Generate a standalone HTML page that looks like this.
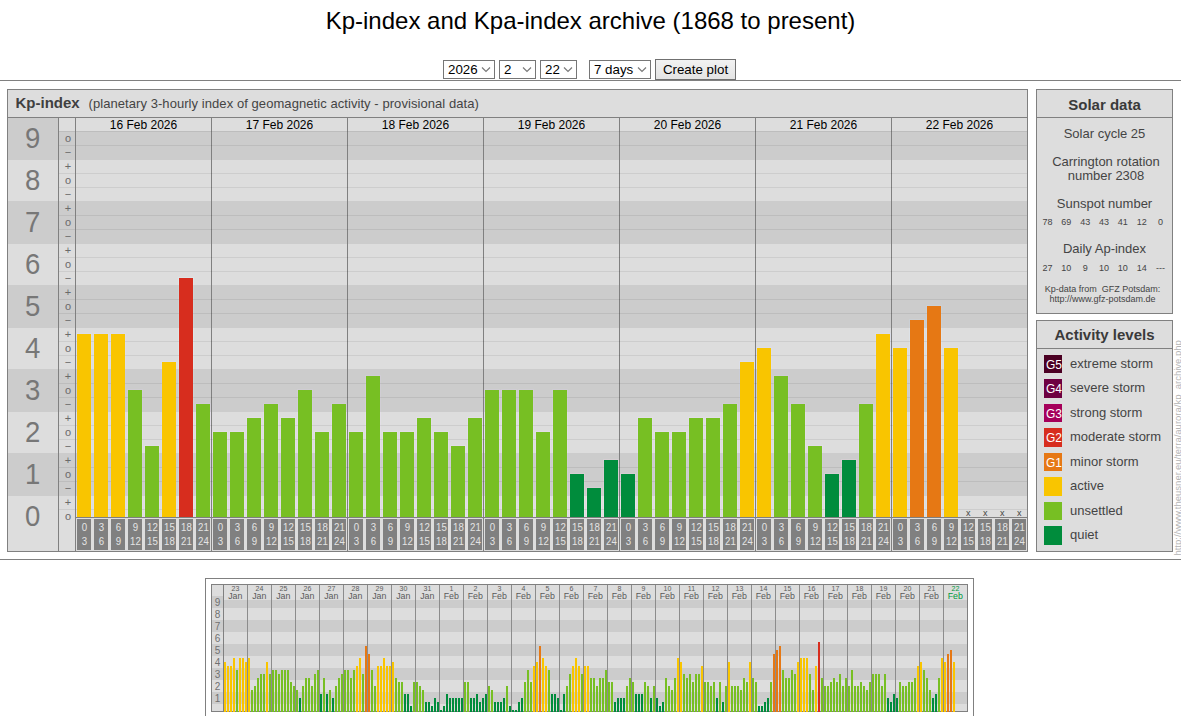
<!DOCTYPE html>
<html><head><meta charset="utf-8"><title>Kp-index and Kpa-index archive</title>
<style>
html,body{margin:0;padding:0;background:#fff;}
body{width:1181px;height:716px;overflow:hidden;position:relative;font-family:'Liberation Sans', Arial, Helvetica, sans-serif;}
h1{position:absolute;left:0;top:9px;width:1181px;margin:0;text-align:center;font-size:24px;line-height:24px;font-weight:normal;color:#000;}
.sel{position:absolute;top:60px;height:17px;border:1px solid #767676;background:#fff;font-size:13.33px;line-height:17px;color:#000;box-sizing:content-box;}
.sel span{position:absolute;left:4px;top:0;}
.sel svg{position:absolute;right:3px;top:5px;}
.btn{position:absolute;left:655px;top:59px;width:79px;height:19px;border:1px solid #707070;background:linear-gradient(#f2f2f2,#e3e3e3);font-size:13.33px;line-height:19px;text-align:center;color:#000;}
.hr{position:absolute;left:0;top:80px;width:1181px;height:1px;background:#808080;}
svg.main{position:absolute;left:0;top:0;}
svg.main text{font-family:'Liberation Sans', Arial, Helvetica, sans-serif;}
</style></head><body>
<svg class="main" width="1181" height="716" viewBox="0 0 1181 716" shape-rendering="crispEdges">
<rect x="7" y="89" width="1021" height="463" fill="#808080"/>
<rect x="8" y="90" width="1019" height="461" fill="#dddddd"/>
<rect x="7" y="117" width="1021" height="1" fill="#808080"/>
<text x="15.5" y="108" font-size="15" fill="#404040" text-anchor="start" font-weight="bold">Kp-index</text>
<text x="88.5" y="108" font-size="13" fill="#444444" text-anchor="start" letter-spacing="0.066">(planetary 3-hourly index of geomagnetic activity - provisional data)</text>
<rect x="8" y="118" width="50" height="42" fill="#cccccc"/>
<rect x="8" y="160" width="50" height="41" fill="#dddddd"/>
<rect x="8" y="201" width="50" height="43" fill="#cccccc"/>
<rect x="8" y="244" width="50" height="41" fill="#dddddd"/>
<rect x="8" y="285" width="50" height="43" fill="#cccccc"/>
<rect x="8" y="328" width="50" height="41" fill="#dddddd"/>
<rect x="8" y="369" width="50" height="43" fill="#cccccc"/>
<rect x="8" y="412" width="50" height="41" fill="#dddddd"/>
<rect x="8" y="453" width="50" height="43" fill="#cccccc"/>
<rect x="8" y="496" width="50" height="55" fill="#dddddd"/>
<rect x="59" y="131" width="16" height="29" fill="#cccccc"/>
<rect x="76" y="131" width="951" height="29" fill="#cccccc"/>
<rect x="59" y="160" width="16" height="41" fill="#dddddd"/>
<rect x="76" y="160" width="951" height="41" fill="#dddddd"/>
<rect x="59" y="201" width="16" height="43" fill="#cccccc"/>
<rect x="76" y="201" width="951" height="43" fill="#cccccc"/>
<rect x="59" y="244" width="16" height="41" fill="#dddddd"/>
<rect x="76" y="244" width="951" height="41" fill="#dddddd"/>
<rect x="59" y="285" width="16" height="43" fill="#cccccc"/>
<rect x="76" y="285" width="951" height="43" fill="#cccccc"/>
<rect x="59" y="328" width="16" height="41" fill="#dddddd"/>
<rect x="76" y="328" width="951" height="41" fill="#dddddd"/>
<rect x="59" y="369" width="16" height="43" fill="#cccccc"/>
<rect x="76" y="369" width="951" height="43" fill="#cccccc"/>
<rect x="59" y="412" width="16" height="41" fill="#dddddd"/>
<rect x="76" y="412" width="951" height="41" fill="#dddddd"/>
<rect x="59" y="453" width="16" height="43" fill="#cccccc"/>
<rect x="76" y="453" width="951" height="43" fill="#cccccc"/>
<rect x="59" y="496" width="16" height="55" fill="#dddddd"/>
<rect x="76" y="496" width="951" height="21" fill="#dddddd"/>
<rect x="58" y="118" width="1" height="433" fill="#808080"/>
<rect x="75" y="118" width="1" height="433" fill="#808080"/>
<rect x="76" y="517" width="951" height="1" fill="#808080"/>
<text transform="translate(32.7,148) scale(0.95,1)" x="0" y="0" font-size="29" fill="#777777" text-anchor="middle">9</text>
<text transform="translate(32.7,190) scale(0.95,1)" x="0" y="0" font-size="29" fill="#777777" text-anchor="middle">8</text>
<text transform="translate(32.7,232) scale(0.95,1)" x="0" y="0" font-size="29" fill="#777777" text-anchor="middle">7</text>
<text transform="translate(32.7,274) scale(0.95,1)" x="0" y="0" font-size="29" fill="#777777" text-anchor="middle">6</text>
<text transform="translate(32.7,316) scale(0.95,1)" x="0" y="0" font-size="29" fill="#777777" text-anchor="middle">5</text>
<text transform="translate(32.7,358) scale(0.95,1)" x="0" y="0" font-size="29" fill="#777777" text-anchor="middle">4</text>
<text transform="translate(32.7,400) scale(0.95,1)" x="0" y="0" font-size="29" fill="#777777" text-anchor="middle">3</text>
<text transform="translate(32.7,442) scale(0.95,1)" x="0" y="0" font-size="29" fill="#777777" text-anchor="middle">2</text>
<text transform="translate(32.7,484) scale(0.95,1)" x="0" y="0" font-size="29" fill="#777777" text-anchor="middle">1</text>
<text transform="translate(32.7,526) scale(0.95,1)" x="0" y="0" font-size="29" fill="#777777" text-anchor="middle">0</text>
<text x="68" y="520" font-size="11" fill="#6a6a6a" text-anchor="middle">o</text>
<text x="68" y="506" font-size="11" fill="#6a6a6a" text-anchor="middle">+</text>
<text x="68" y="492" font-size="11" fill="#6a6a6a" text-anchor="middle">&#8722;</text>
<text x="68" y="478" font-size="11" fill="#6a6a6a" text-anchor="middle">o</text>
<text x="68" y="464" font-size="11" fill="#6a6a6a" text-anchor="middle">+</text>
<text x="68" y="450" font-size="11" fill="#6a6a6a" text-anchor="middle">&#8722;</text>
<text x="68" y="436" font-size="11" fill="#6a6a6a" text-anchor="middle">o</text>
<text x="68" y="422" font-size="11" fill="#6a6a6a" text-anchor="middle">+</text>
<text x="68" y="408" font-size="11" fill="#6a6a6a" text-anchor="middle">&#8722;</text>
<text x="68" y="394" font-size="11" fill="#6a6a6a" text-anchor="middle">o</text>
<text x="68" y="380" font-size="11" fill="#6a6a6a" text-anchor="middle">+</text>
<text x="68" y="366" font-size="11" fill="#6a6a6a" text-anchor="middle">&#8722;</text>
<text x="68" y="352" font-size="11" fill="#6a6a6a" text-anchor="middle">o</text>
<text x="68" y="338" font-size="11" fill="#6a6a6a" text-anchor="middle">+</text>
<text x="68" y="324" font-size="11" fill="#6a6a6a" text-anchor="middle">&#8722;</text>
<text x="68" y="310" font-size="11" fill="#6a6a6a" text-anchor="middle">o</text>
<text x="68" y="296" font-size="11" fill="#6a6a6a" text-anchor="middle">+</text>
<text x="68" y="282" font-size="11" fill="#6a6a6a" text-anchor="middle">&#8722;</text>
<text x="68" y="268" font-size="11" fill="#6a6a6a" text-anchor="middle">o</text>
<text x="68" y="254" font-size="11" fill="#6a6a6a" text-anchor="middle">+</text>
<text x="68" y="240" font-size="11" fill="#6a6a6a" text-anchor="middle">&#8722;</text>
<text x="68" y="226" font-size="11" fill="#6a6a6a" text-anchor="middle">o</text>
<text x="68" y="212" font-size="11" fill="#6a6a6a" text-anchor="middle">+</text>
<text x="68" y="198" font-size="11" fill="#6a6a6a" text-anchor="middle">&#8722;</text>
<text x="68" y="184" font-size="11" fill="#6a6a6a" text-anchor="middle">o</text>
<text x="68" y="170" font-size="11" fill="#6a6a6a" text-anchor="middle">+</text>
<text x="68" y="156" font-size="11" fill="#6a6a6a" text-anchor="middle">&#8722;</text>
<text x="68" y="142" font-size="11" fill="#6a6a6a" text-anchor="middle">o</text>
<text x="143.5" y="129" font-size="12" fill="#000000" text-anchor="middle">16 Feb 2026</text>
<rect x="211" y="118" width="1" height="433" fill="#808080"/>
<text x="279.5" y="129" font-size="12" fill="#000000" text-anchor="middle">17 Feb 2026</text>
<rect x="347" y="118" width="1" height="433" fill="#808080"/>
<text x="415.5" y="129" font-size="12" fill="#000000" text-anchor="middle">18 Feb 2026</text>
<rect x="483" y="118" width="1" height="433" fill="#808080"/>
<text x="551.5" y="129" font-size="12" fill="#000000" text-anchor="middle">19 Feb 2026</text>
<rect x="619" y="118" width="1" height="433" fill="#808080"/>
<text x="687.5" y="129" font-size="12" fill="#000000" text-anchor="middle">20 Feb 2026</text>
<rect x="755" y="118" width="1" height="433" fill="#808080"/>
<text x="823.5" y="129" font-size="12" fill="#000000" text-anchor="middle">21 Feb 2026</text>
<rect x="891" y="118" width="1" height="433" fill="#808080"/>
<text x="959.5" y="129" font-size="12" fill="#000000" text-anchor="middle">22 Feb 2026</text>
<rect x="76" y="333" width="1" height="36" fill="#dcdee8"/>
<rect x="91" y="333" width="1" height="36" fill="#dcdee8"/>
<rect x="76" y="369" width="1" height="43" fill="#caccd6"/>
<rect x="91" y="369" width="1" height="43" fill="#caccd6"/>
<rect x="76" y="412" width="1" height="41" fill="#dcdee8"/>
<rect x="91" y="412" width="1" height="41" fill="#dcdee8"/>
<rect x="76" y="453" width="1" height="43" fill="#caccd6"/>
<rect x="91" y="453" width="1" height="43" fill="#caccd6"/>
<rect x="76" y="496" width="1" height="21" fill="#dcdee8"/>
<rect x="91" y="496" width="1" height="21" fill="#dcdee8"/>
<rect x="77" y="333" width="14" height="1" fill="#dcdee8"/>
<rect x="93" y="333" width="1" height="36" fill="#dcdee8"/>
<rect x="108" y="333" width="1" height="36" fill="#dcdee8"/>
<rect x="93" y="369" width="1" height="43" fill="#caccd6"/>
<rect x="108" y="369" width="1" height="43" fill="#caccd6"/>
<rect x="93" y="412" width="1" height="41" fill="#dcdee8"/>
<rect x="108" y="412" width="1" height="41" fill="#dcdee8"/>
<rect x="93" y="453" width="1" height="43" fill="#caccd6"/>
<rect x="108" y="453" width="1" height="43" fill="#caccd6"/>
<rect x="93" y="496" width="1" height="21" fill="#dcdee8"/>
<rect x="108" y="496" width="1" height="21" fill="#dcdee8"/>
<rect x="94" y="333" width="14" height="1" fill="#dcdee8"/>
<rect x="110" y="333" width="1" height="36" fill="#dcdee8"/>
<rect x="125" y="333" width="1" height="36" fill="#dcdee8"/>
<rect x="110" y="369" width="1" height="43" fill="#caccd6"/>
<rect x="125" y="369" width="1" height="43" fill="#caccd6"/>
<rect x="110" y="412" width="1" height="41" fill="#dcdee8"/>
<rect x="125" y="412" width="1" height="41" fill="#dcdee8"/>
<rect x="110" y="453" width="1" height="43" fill="#caccd6"/>
<rect x="125" y="453" width="1" height="43" fill="#caccd6"/>
<rect x="110" y="496" width="1" height="21" fill="#dcdee8"/>
<rect x="125" y="496" width="1" height="21" fill="#dcdee8"/>
<rect x="111" y="333" width="14" height="1" fill="#dcdee8"/>
<rect x="127" y="389" width="1" height="23" fill="#d0cdd4"/>
<rect x="142" y="389" width="1" height="23" fill="#d0cdd4"/>
<rect x="127" y="412" width="1" height="41" fill="#e2dee6"/>
<rect x="142" y="412" width="1" height="41" fill="#e2dee6"/>
<rect x="127" y="453" width="1" height="43" fill="#d0cdd4"/>
<rect x="142" y="453" width="1" height="43" fill="#d0cdd4"/>
<rect x="127" y="496" width="1" height="21" fill="#e2dee6"/>
<rect x="142" y="496" width="1" height="21" fill="#e2dee6"/>
<rect x="128" y="389" width="14" height="1" fill="#d0cdd4"/>
<rect x="144" y="445" width="1" height="8" fill="#e2dee6"/>
<rect x="159" y="445" width="1" height="8" fill="#e2dee6"/>
<rect x="144" y="453" width="1" height="43" fill="#d0cdd4"/>
<rect x="159" y="453" width="1" height="43" fill="#d0cdd4"/>
<rect x="144" y="496" width="1" height="21" fill="#e2dee6"/>
<rect x="159" y="496" width="1" height="21" fill="#e2dee6"/>
<rect x="145" y="445" width="14" height="1" fill="#e2dee6"/>
<rect x="161" y="361" width="1" height="8" fill="#dcdee8"/>
<rect x="176" y="361" width="1" height="8" fill="#dcdee8"/>
<rect x="161" y="369" width="1" height="43" fill="#caccd6"/>
<rect x="176" y="369" width="1" height="43" fill="#caccd6"/>
<rect x="161" y="412" width="1" height="41" fill="#dcdee8"/>
<rect x="176" y="412" width="1" height="41" fill="#dcdee8"/>
<rect x="161" y="453" width="1" height="43" fill="#caccd6"/>
<rect x="176" y="453" width="1" height="43" fill="#caccd6"/>
<rect x="161" y="496" width="1" height="21" fill="#dcdee8"/>
<rect x="176" y="496" width="1" height="21" fill="#dcdee8"/>
<rect x="162" y="361" width="14" height="1" fill="#dcdee8"/>
<rect x="178" y="277" width="1" height="8" fill="#dde6e7"/>
<rect x="193" y="277" width="1" height="8" fill="#dde6e7"/>
<rect x="178" y="285" width="1" height="43" fill="#cbd4d5"/>
<rect x="193" y="285" width="1" height="43" fill="#cbd4d5"/>
<rect x="178" y="328" width="1" height="41" fill="#dde6e7"/>
<rect x="193" y="328" width="1" height="41" fill="#dde6e7"/>
<rect x="178" y="369" width="1" height="43" fill="#cbd4d5"/>
<rect x="193" y="369" width="1" height="43" fill="#cbd4d5"/>
<rect x="178" y="412" width="1" height="41" fill="#dde6e7"/>
<rect x="193" y="412" width="1" height="41" fill="#dde6e7"/>
<rect x="178" y="453" width="1" height="43" fill="#cbd4d5"/>
<rect x="193" y="453" width="1" height="43" fill="#cbd4d5"/>
<rect x="178" y="496" width="1" height="21" fill="#dde6e7"/>
<rect x="193" y="496" width="1" height="21" fill="#dde6e7"/>
<rect x="179" y="277" width="14" height="1" fill="#dde6e7"/>
<rect x="195" y="403" width="1" height="9" fill="#d0cdd4"/>
<rect x="210" y="403" width="1" height="9" fill="#d0cdd4"/>
<rect x="195" y="412" width="1" height="41" fill="#e2dee6"/>
<rect x="210" y="412" width="1" height="41" fill="#e2dee6"/>
<rect x="195" y="453" width="1" height="43" fill="#d0cdd4"/>
<rect x="210" y="453" width="1" height="43" fill="#d0cdd4"/>
<rect x="195" y="496" width="1" height="21" fill="#e2dee6"/>
<rect x="210" y="496" width="1" height="21" fill="#e2dee6"/>
<rect x="196" y="403" width="14" height="1" fill="#d0cdd4"/>
<rect x="212" y="431" width="1" height="22" fill="#e2dee6"/>
<rect x="227" y="431" width="1" height="22" fill="#e2dee6"/>
<rect x="212" y="453" width="1" height="43" fill="#d0cdd4"/>
<rect x="227" y="453" width="1" height="43" fill="#d0cdd4"/>
<rect x="212" y="496" width="1" height="21" fill="#e2dee6"/>
<rect x="227" y="496" width="1" height="21" fill="#e2dee6"/>
<rect x="213" y="431" width="14" height="1" fill="#e2dee6"/>
<rect x="229" y="431" width="1" height="22" fill="#e2dee6"/>
<rect x="244" y="431" width="1" height="22" fill="#e2dee6"/>
<rect x="229" y="453" width="1" height="43" fill="#d0cdd4"/>
<rect x="244" y="453" width="1" height="43" fill="#d0cdd4"/>
<rect x="229" y="496" width="1" height="21" fill="#e2dee6"/>
<rect x="244" y="496" width="1" height="21" fill="#e2dee6"/>
<rect x="230" y="431" width="14" height="1" fill="#e2dee6"/>
<rect x="246" y="417" width="1" height="36" fill="#e2dee6"/>
<rect x="261" y="417" width="1" height="36" fill="#e2dee6"/>
<rect x="246" y="453" width="1" height="43" fill="#d0cdd4"/>
<rect x="261" y="453" width="1" height="43" fill="#d0cdd4"/>
<rect x="246" y="496" width="1" height="21" fill="#e2dee6"/>
<rect x="261" y="496" width="1" height="21" fill="#e2dee6"/>
<rect x="247" y="417" width="14" height="1" fill="#e2dee6"/>
<rect x="263" y="403" width="1" height="9" fill="#d0cdd4"/>
<rect x="278" y="403" width="1" height="9" fill="#d0cdd4"/>
<rect x="263" y="412" width="1" height="41" fill="#e2dee6"/>
<rect x="278" y="412" width="1" height="41" fill="#e2dee6"/>
<rect x="263" y="453" width="1" height="43" fill="#d0cdd4"/>
<rect x="278" y="453" width="1" height="43" fill="#d0cdd4"/>
<rect x="263" y="496" width="1" height="21" fill="#e2dee6"/>
<rect x="278" y="496" width="1" height="21" fill="#e2dee6"/>
<rect x="264" y="403" width="14" height="1" fill="#d0cdd4"/>
<rect x="280" y="417" width="1" height="36" fill="#e2dee6"/>
<rect x="295" y="417" width="1" height="36" fill="#e2dee6"/>
<rect x="280" y="453" width="1" height="43" fill="#d0cdd4"/>
<rect x="295" y="453" width="1" height="43" fill="#d0cdd4"/>
<rect x="280" y="496" width="1" height="21" fill="#e2dee6"/>
<rect x="295" y="496" width="1" height="21" fill="#e2dee6"/>
<rect x="281" y="417" width="14" height="1" fill="#e2dee6"/>
<rect x="297" y="389" width="1" height="23" fill="#d0cdd4"/>
<rect x="312" y="389" width="1" height="23" fill="#d0cdd4"/>
<rect x="297" y="412" width="1" height="41" fill="#e2dee6"/>
<rect x="312" y="412" width="1" height="41" fill="#e2dee6"/>
<rect x="297" y="453" width="1" height="43" fill="#d0cdd4"/>
<rect x="312" y="453" width="1" height="43" fill="#d0cdd4"/>
<rect x="297" y="496" width="1" height="21" fill="#e2dee6"/>
<rect x="312" y="496" width="1" height="21" fill="#e2dee6"/>
<rect x="298" y="389" width="14" height="1" fill="#d0cdd4"/>
<rect x="314" y="431" width="1" height="22" fill="#e2dee6"/>
<rect x="329" y="431" width="1" height="22" fill="#e2dee6"/>
<rect x="314" y="453" width="1" height="43" fill="#d0cdd4"/>
<rect x="329" y="453" width="1" height="43" fill="#d0cdd4"/>
<rect x="314" y="496" width="1" height="21" fill="#e2dee6"/>
<rect x="329" y="496" width="1" height="21" fill="#e2dee6"/>
<rect x="315" y="431" width="14" height="1" fill="#e2dee6"/>
<rect x="331" y="403" width="1" height="9" fill="#d0cdd4"/>
<rect x="346" y="403" width="1" height="9" fill="#d0cdd4"/>
<rect x="331" y="412" width="1" height="41" fill="#e2dee6"/>
<rect x="346" y="412" width="1" height="41" fill="#e2dee6"/>
<rect x="331" y="453" width="1" height="43" fill="#d0cdd4"/>
<rect x="346" y="453" width="1" height="43" fill="#d0cdd4"/>
<rect x="331" y="496" width="1" height="21" fill="#e2dee6"/>
<rect x="346" y="496" width="1" height="21" fill="#e2dee6"/>
<rect x="332" y="403" width="14" height="1" fill="#d0cdd4"/>
<rect x="348" y="431" width="1" height="22" fill="#e2dee6"/>
<rect x="363" y="431" width="1" height="22" fill="#e2dee6"/>
<rect x="348" y="453" width="1" height="43" fill="#d0cdd4"/>
<rect x="363" y="453" width="1" height="43" fill="#d0cdd4"/>
<rect x="348" y="496" width="1" height="21" fill="#e2dee6"/>
<rect x="363" y="496" width="1" height="21" fill="#e2dee6"/>
<rect x="349" y="431" width="14" height="1" fill="#e2dee6"/>
<rect x="365" y="375" width="1" height="37" fill="#d0cdd4"/>
<rect x="380" y="375" width="1" height="37" fill="#d0cdd4"/>
<rect x="365" y="412" width="1" height="41" fill="#e2dee6"/>
<rect x="380" y="412" width="1" height="41" fill="#e2dee6"/>
<rect x="365" y="453" width="1" height="43" fill="#d0cdd4"/>
<rect x="380" y="453" width="1" height="43" fill="#d0cdd4"/>
<rect x="365" y="496" width="1" height="21" fill="#e2dee6"/>
<rect x="380" y="496" width="1" height="21" fill="#e2dee6"/>
<rect x="366" y="375" width="14" height="1" fill="#d0cdd4"/>
<rect x="382" y="431" width="1" height="22" fill="#e2dee6"/>
<rect x="397" y="431" width="1" height="22" fill="#e2dee6"/>
<rect x="382" y="453" width="1" height="43" fill="#d0cdd4"/>
<rect x="397" y="453" width="1" height="43" fill="#d0cdd4"/>
<rect x="382" y="496" width="1" height="21" fill="#e2dee6"/>
<rect x="397" y="496" width="1" height="21" fill="#e2dee6"/>
<rect x="383" y="431" width="14" height="1" fill="#e2dee6"/>
<rect x="399" y="431" width="1" height="22" fill="#e2dee6"/>
<rect x="414" y="431" width="1" height="22" fill="#e2dee6"/>
<rect x="399" y="453" width="1" height="43" fill="#d0cdd4"/>
<rect x="414" y="453" width="1" height="43" fill="#d0cdd4"/>
<rect x="399" y="496" width="1" height="21" fill="#e2dee6"/>
<rect x="414" y="496" width="1" height="21" fill="#e2dee6"/>
<rect x="400" y="431" width="14" height="1" fill="#e2dee6"/>
<rect x="416" y="417" width="1" height="36" fill="#e2dee6"/>
<rect x="431" y="417" width="1" height="36" fill="#e2dee6"/>
<rect x="416" y="453" width="1" height="43" fill="#d0cdd4"/>
<rect x="431" y="453" width="1" height="43" fill="#d0cdd4"/>
<rect x="416" y="496" width="1" height="21" fill="#e2dee6"/>
<rect x="431" y="496" width="1" height="21" fill="#e2dee6"/>
<rect x="417" y="417" width="14" height="1" fill="#e2dee6"/>
<rect x="433" y="431" width="1" height="22" fill="#e2dee6"/>
<rect x="448" y="431" width="1" height="22" fill="#e2dee6"/>
<rect x="433" y="453" width="1" height="43" fill="#d0cdd4"/>
<rect x="448" y="453" width="1" height="43" fill="#d0cdd4"/>
<rect x="433" y="496" width="1" height="21" fill="#e2dee6"/>
<rect x="448" y="496" width="1" height="21" fill="#e2dee6"/>
<rect x="434" y="431" width="14" height="1" fill="#e2dee6"/>
<rect x="450" y="445" width="1" height="8" fill="#e2dee6"/>
<rect x="465" y="445" width="1" height="8" fill="#e2dee6"/>
<rect x="450" y="453" width="1" height="43" fill="#d0cdd4"/>
<rect x="465" y="453" width="1" height="43" fill="#d0cdd4"/>
<rect x="450" y="496" width="1" height="21" fill="#e2dee6"/>
<rect x="465" y="496" width="1" height="21" fill="#e2dee6"/>
<rect x="451" y="445" width="14" height="1" fill="#e2dee6"/>
<rect x="467" y="417" width="1" height="36" fill="#e2dee6"/>
<rect x="482" y="417" width="1" height="36" fill="#e2dee6"/>
<rect x="467" y="453" width="1" height="43" fill="#d0cdd4"/>
<rect x="482" y="453" width="1" height="43" fill="#d0cdd4"/>
<rect x="467" y="496" width="1" height="21" fill="#e2dee6"/>
<rect x="482" y="496" width="1" height="21" fill="#e2dee6"/>
<rect x="468" y="417" width="14" height="1" fill="#e2dee6"/>
<rect x="484" y="389" width="1" height="23" fill="#d0cdd4"/>
<rect x="499" y="389" width="1" height="23" fill="#d0cdd4"/>
<rect x="484" y="412" width="1" height="41" fill="#e2dee6"/>
<rect x="499" y="412" width="1" height="41" fill="#e2dee6"/>
<rect x="484" y="453" width="1" height="43" fill="#d0cdd4"/>
<rect x="499" y="453" width="1" height="43" fill="#d0cdd4"/>
<rect x="484" y="496" width="1" height="21" fill="#e2dee6"/>
<rect x="499" y="496" width="1" height="21" fill="#e2dee6"/>
<rect x="485" y="389" width="14" height="1" fill="#d0cdd4"/>
<rect x="501" y="389" width="1" height="23" fill="#d0cdd4"/>
<rect x="516" y="389" width="1" height="23" fill="#d0cdd4"/>
<rect x="501" y="412" width="1" height="41" fill="#e2dee6"/>
<rect x="516" y="412" width="1" height="41" fill="#e2dee6"/>
<rect x="501" y="453" width="1" height="43" fill="#d0cdd4"/>
<rect x="516" y="453" width="1" height="43" fill="#d0cdd4"/>
<rect x="501" y="496" width="1" height="21" fill="#e2dee6"/>
<rect x="516" y="496" width="1" height="21" fill="#e2dee6"/>
<rect x="502" y="389" width="14" height="1" fill="#d0cdd4"/>
<rect x="518" y="389" width="1" height="23" fill="#d0cdd4"/>
<rect x="533" y="389" width="1" height="23" fill="#d0cdd4"/>
<rect x="518" y="412" width="1" height="41" fill="#e2dee6"/>
<rect x="533" y="412" width="1" height="41" fill="#e2dee6"/>
<rect x="518" y="453" width="1" height="43" fill="#d0cdd4"/>
<rect x="533" y="453" width="1" height="43" fill="#d0cdd4"/>
<rect x="518" y="496" width="1" height="21" fill="#e2dee6"/>
<rect x="533" y="496" width="1" height="21" fill="#e2dee6"/>
<rect x="519" y="389" width="14" height="1" fill="#d0cdd4"/>
<rect x="535" y="431" width="1" height="22" fill="#e2dee6"/>
<rect x="550" y="431" width="1" height="22" fill="#e2dee6"/>
<rect x="535" y="453" width="1" height="43" fill="#d0cdd4"/>
<rect x="550" y="453" width="1" height="43" fill="#d0cdd4"/>
<rect x="535" y="496" width="1" height="21" fill="#e2dee6"/>
<rect x="550" y="496" width="1" height="21" fill="#e2dee6"/>
<rect x="536" y="431" width="14" height="1" fill="#e2dee6"/>
<rect x="552" y="389" width="1" height="23" fill="#d0cdd4"/>
<rect x="567" y="389" width="1" height="23" fill="#d0cdd4"/>
<rect x="552" y="412" width="1" height="41" fill="#e2dee6"/>
<rect x="567" y="412" width="1" height="41" fill="#e2dee6"/>
<rect x="552" y="453" width="1" height="43" fill="#d0cdd4"/>
<rect x="567" y="453" width="1" height="43" fill="#d0cdd4"/>
<rect x="552" y="496" width="1" height="21" fill="#e2dee6"/>
<rect x="567" y="496" width="1" height="21" fill="#e2dee6"/>
<rect x="553" y="389" width="14" height="1" fill="#d0cdd4"/>
<rect x="569" y="473" width="1" height="23" fill="#d6cfd3"/>
<rect x="584" y="473" width="1" height="23" fill="#d6cfd3"/>
<rect x="569" y="496" width="1" height="21" fill="#e8e1e5"/>
<rect x="584" y="496" width="1" height="21" fill="#e8e1e5"/>
<rect x="570" y="473" width="14" height="1" fill="#d6cfd3"/>
<rect x="586" y="487" width="1" height="9" fill="#d6cfd3"/>
<rect x="601" y="487" width="1" height="9" fill="#d6cfd3"/>
<rect x="586" y="496" width="1" height="21" fill="#e8e1e5"/>
<rect x="601" y="496" width="1" height="21" fill="#e8e1e5"/>
<rect x="587" y="487" width="14" height="1" fill="#d6cfd3"/>
<rect x="603" y="459" width="1" height="37" fill="#d6cfd3"/>
<rect x="618" y="459" width="1" height="37" fill="#d6cfd3"/>
<rect x="603" y="496" width="1" height="21" fill="#e8e1e5"/>
<rect x="618" y="496" width="1" height="21" fill="#e8e1e5"/>
<rect x="604" y="459" width="14" height="1" fill="#d6cfd3"/>
<rect x="620" y="473" width="1" height="23" fill="#d6cfd3"/>
<rect x="635" y="473" width="1" height="23" fill="#d6cfd3"/>
<rect x="620" y="496" width="1" height="21" fill="#e8e1e5"/>
<rect x="635" y="496" width="1" height="21" fill="#e8e1e5"/>
<rect x="621" y="473" width="14" height="1" fill="#d6cfd3"/>
<rect x="637" y="417" width="1" height="36" fill="#e2dee6"/>
<rect x="652" y="417" width="1" height="36" fill="#e2dee6"/>
<rect x="637" y="453" width="1" height="43" fill="#d0cdd4"/>
<rect x="652" y="453" width="1" height="43" fill="#d0cdd4"/>
<rect x="637" y="496" width="1" height="21" fill="#e2dee6"/>
<rect x="652" y="496" width="1" height="21" fill="#e2dee6"/>
<rect x="638" y="417" width="14" height="1" fill="#e2dee6"/>
<rect x="654" y="431" width="1" height="22" fill="#e2dee6"/>
<rect x="669" y="431" width="1" height="22" fill="#e2dee6"/>
<rect x="654" y="453" width="1" height="43" fill="#d0cdd4"/>
<rect x="669" y="453" width="1" height="43" fill="#d0cdd4"/>
<rect x="654" y="496" width="1" height="21" fill="#e2dee6"/>
<rect x="669" y="496" width="1" height="21" fill="#e2dee6"/>
<rect x="655" y="431" width="14" height="1" fill="#e2dee6"/>
<rect x="671" y="431" width="1" height="22" fill="#e2dee6"/>
<rect x="686" y="431" width="1" height="22" fill="#e2dee6"/>
<rect x="671" y="453" width="1" height="43" fill="#d0cdd4"/>
<rect x="686" y="453" width="1" height="43" fill="#d0cdd4"/>
<rect x="671" y="496" width="1" height="21" fill="#e2dee6"/>
<rect x="686" y="496" width="1" height="21" fill="#e2dee6"/>
<rect x="672" y="431" width="14" height="1" fill="#e2dee6"/>
<rect x="688" y="417" width="1" height="36" fill="#e2dee6"/>
<rect x="703" y="417" width="1" height="36" fill="#e2dee6"/>
<rect x="688" y="453" width="1" height="43" fill="#d0cdd4"/>
<rect x="703" y="453" width="1" height="43" fill="#d0cdd4"/>
<rect x="688" y="496" width="1" height="21" fill="#e2dee6"/>
<rect x="703" y="496" width="1" height="21" fill="#e2dee6"/>
<rect x="689" y="417" width="14" height="1" fill="#e2dee6"/>
<rect x="705" y="417" width="1" height="36" fill="#e2dee6"/>
<rect x="720" y="417" width="1" height="36" fill="#e2dee6"/>
<rect x="705" y="453" width="1" height="43" fill="#d0cdd4"/>
<rect x="720" y="453" width="1" height="43" fill="#d0cdd4"/>
<rect x="705" y="496" width="1" height="21" fill="#e2dee6"/>
<rect x="720" y="496" width="1" height="21" fill="#e2dee6"/>
<rect x="706" y="417" width="14" height="1" fill="#e2dee6"/>
<rect x="722" y="403" width="1" height="9" fill="#d0cdd4"/>
<rect x="737" y="403" width="1" height="9" fill="#d0cdd4"/>
<rect x="722" y="412" width="1" height="41" fill="#e2dee6"/>
<rect x="737" y="412" width="1" height="41" fill="#e2dee6"/>
<rect x="722" y="453" width="1" height="43" fill="#d0cdd4"/>
<rect x="737" y="453" width="1" height="43" fill="#d0cdd4"/>
<rect x="722" y="496" width="1" height="21" fill="#e2dee6"/>
<rect x="737" y="496" width="1" height="21" fill="#e2dee6"/>
<rect x="723" y="403" width="14" height="1" fill="#d0cdd4"/>
<rect x="739" y="361" width="1" height="8" fill="#dcdee8"/>
<rect x="754" y="361" width="1" height="8" fill="#dcdee8"/>
<rect x="739" y="369" width="1" height="43" fill="#caccd6"/>
<rect x="754" y="369" width="1" height="43" fill="#caccd6"/>
<rect x="739" y="412" width="1" height="41" fill="#dcdee8"/>
<rect x="754" y="412" width="1" height="41" fill="#dcdee8"/>
<rect x="739" y="453" width="1" height="43" fill="#caccd6"/>
<rect x="754" y="453" width="1" height="43" fill="#caccd6"/>
<rect x="739" y="496" width="1" height="21" fill="#dcdee8"/>
<rect x="754" y="496" width="1" height="21" fill="#dcdee8"/>
<rect x="740" y="361" width="14" height="1" fill="#dcdee8"/>
<rect x="756" y="347" width="1" height="22" fill="#dcdee8"/>
<rect x="771" y="347" width="1" height="22" fill="#dcdee8"/>
<rect x="756" y="369" width="1" height="43" fill="#caccd6"/>
<rect x="771" y="369" width="1" height="43" fill="#caccd6"/>
<rect x="756" y="412" width="1" height="41" fill="#dcdee8"/>
<rect x="771" y="412" width="1" height="41" fill="#dcdee8"/>
<rect x="756" y="453" width="1" height="43" fill="#caccd6"/>
<rect x="771" y="453" width="1" height="43" fill="#caccd6"/>
<rect x="756" y="496" width="1" height="21" fill="#dcdee8"/>
<rect x="771" y="496" width="1" height="21" fill="#dcdee8"/>
<rect x="757" y="347" width="14" height="1" fill="#dcdee8"/>
<rect x="773" y="375" width="1" height="37" fill="#d0cdd4"/>
<rect x="788" y="375" width="1" height="37" fill="#d0cdd4"/>
<rect x="773" y="412" width="1" height="41" fill="#e2dee6"/>
<rect x="788" y="412" width="1" height="41" fill="#e2dee6"/>
<rect x="773" y="453" width="1" height="43" fill="#d0cdd4"/>
<rect x="788" y="453" width="1" height="43" fill="#d0cdd4"/>
<rect x="773" y="496" width="1" height="21" fill="#e2dee6"/>
<rect x="788" y="496" width="1" height="21" fill="#e2dee6"/>
<rect x="774" y="375" width="14" height="1" fill="#d0cdd4"/>
<rect x="790" y="403" width="1" height="9" fill="#d0cdd4"/>
<rect x="805" y="403" width="1" height="9" fill="#d0cdd4"/>
<rect x="790" y="412" width="1" height="41" fill="#e2dee6"/>
<rect x="805" y="412" width="1" height="41" fill="#e2dee6"/>
<rect x="790" y="453" width="1" height="43" fill="#d0cdd4"/>
<rect x="805" y="453" width="1" height="43" fill="#d0cdd4"/>
<rect x="790" y="496" width="1" height="21" fill="#e2dee6"/>
<rect x="805" y="496" width="1" height="21" fill="#e2dee6"/>
<rect x="791" y="403" width="14" height="1" fill="#d0cdd4"/>
<rect x="807" y="445" width="1" height="8" fill="#e2dee6"/>
<rect x="822" y="445" width="1" height="8" fill="#e2dee6"/>
<rect x="807" y="453" width="1" height="43" fill="#d0cdd4"/>
<rect x="822" y="453" width="1" height="43" fill="#d0cdd4"/>
<rect x="807" y="496" width="1" height="21" fill="#e2dee6"/>
<rect x="822" y="496" width="1" height="21" fill="#e2dee6"/>
<rect x="808" y="445" width="14" height="1" fill="#e2dee6"/>
<rect x="824" y="473" width="1" height="23" fill="#d6cfd3"/>
<rect x="839" y="473" width="1" height="23" fill="#d6cfd3"/>
<rect x="824" y="496" width="1" height="21" fill="#e8e1e5"/>
<rect x="839" y="496" width="1" height="21" fill="#e8e1e5"/>
<rect x="825" y="473" width="14" height="1" fill="#d6cfd3"/>
<rect x="841" y="459" width="1" height="37" fill="#d6cfd3"/>
<rect x="856" y="459" width="1" height="37" fill="#d6cfd3"/>
<rect x="841" y="496" width="1" height="21" fill="#e8e1e5"/>
<rect x="856" y="496" width="1" height="21" fill="#e8e1e5"/>
<rect x="842" y="459" width="14" height="1" fill="#d6cfd3"/>
<rect x="858" y="403" width="1" height="9" fill="#d0cdd4"/>
<rect x="873" y="403" width="1" height="9" fill="#d0cdd4"/>
<rect x="858" y="412" width="1" height="41" fill="#e2dee6"/>
<rect x="873" y="412" width="1" height="41" fill="#e2dee6"/>
<rect x="858" y="453" width="1" height="43" fill="#d0cdd4"/>
<rect x="873" y="453" width="1" height="43" fill="#d0cdd4"/>
<rect x="858" y="496" width="1" height="21" fill="#e2dee6"/>
<rect x="873" y="496" width="1" height="21" fill="#e2dee6"/>
<rect x="859" y="403" width="14" height="1" fill="#d0cdd4"/>
<rect x="875" y="333" width="1" height="36" fill="#dcdee8"/>
<rect x="890" y="333" width="1" height="36" fill="#dcdee8"/>
<rect x="875" y="369" width="1" height="43" fill="#caccd6"/>
<rect x="890" y="369" width="1" height="43" fill="#caccd6"/>
<rect x="875" y="412" width="1" height="41" fill="#dcdee8"/>
<rect x="890" y="412" width="1" height="41" fill="#dcdee8"/>
<rect x="875" y="453" width="1" height="43" fill="#caccd6"/>
<rect x="890" y="453" width="1" height="43" fill="#caccd6"/>
<rect x="875" y="496" width="1" height="21" fill="#dcdee8"/>
<rect x="890" y="496" width="1" height="21" fill="#dcdee8"/>
<rect x="876" y="333" width="14" height="1" fill="#dcdee8"/>
<rect x="892" y="347" width="1" height="22" fill="#dcdee8"/>
<rect x="907" y="347" width="1" height="22" fill="#dcdee8"/>
<rect x="892" y="369" width="1" height="43" fill="#caccd6"/>
<rect x="907" y="369" width="1" height="43" fill="#caccd6"/>
<rect x="892" y="412" width="1" height="41" fill="#dcdee8"/>
<rect x="907" y="412" width="1" height="41" fill="#dcdee8"/>
<rect x="892" y="453" width="1" height="43" fill="#caccd6"/>
<rect x="907" y="453" width="1" height="43" fill="#caccd6"/>
<rect x="892" y="496" width="1" height="21" fill="#dcdee8"/>
<rect x="907" y="496" width="1" height="21" fill="#dcdee8"/>
<rect x="893" y="347" width="14" height="1" fill="#dcdee8"/>
<rect x="909" y="319" width="1" height="9" fill="#cbd0d5"/>
<rect x="924" y="319" width="1" height="9" fill="#cbd0d5"/>
<rect x="909" y="328" width="1" height="41" fill="#dde2e7"/>
<rect x="924" y="328" width="1" height="41" fill="#dde2e7"/>
<rect x="909" y="369" width="1" height="43" fill="#cbd0d5"/>
<rect x="924" y="369" width="1" height="43" fill="#cbd0d5"/>
<rect x="909" y="412" width="1" height="41" fill="#dde2e7"/>
<rect x="924" y="412" width="1" height="41" fill="#dde2e7"/>
<rect x="909" y="453" width="1" height="43" fill="#cbd0d5"/>
<rect x="924" y="453" width="1" height="43" fill="#cbd0d5"/>
<rect x="909" y="496" width="1" height="21" fill="#dde2e7"/>
<rect x="924" y="496" width="1" height="21" fill="#dde2e7"/>
<rect x="910" y="319" width="14" height="1" fill="#cbd0d5"/>
<rect x="926" y="305" width="1" height="23" fill="#cbd0d5"/>
<rect x="941" y="305" width="1" height="23" fill="#cbd0d5"/>
<rect x="926" y="328" width="1" height="41" fill="#dde2e7"/>
<rect x="941" y="328" width="1" height="41" fill="#dde2e7"/>
<rect x="926" y="369" width="1" height="43" fill="#cbd0d5"/>
<rect x="941" y="369" width="1" height="43" fill="#cbd0d5"/>
<rect x="926" y="412" width="1" height="41" fill="#dde2e7"/>
<rect x="941" y="412" width="1" height="41" fill="#dde2e7"/>
<rect x="926" y="453" width="1" height="43" fill="#cbd0d5"/>
<rect x="941" y="453" width="1" height="43" fill="#cbd0d5"/>
<rect x="926" y="496" width="1" height="21" fill="#dde2e7"/>
<rect x="941" y="496" width="1" height="21" fill="#dde2e7"/>
<rect x="927" y="305" width="14" height="1" fill="#cbd0d5"/>
<rect x="943" y="347" width="1" height="22" fill="#dcdee8"/>
<rect x="958" y="347" width="1" height="22" fill="#dcdee8"/>
<rect x="943" y="369" width="1" height="43" fill="#caccd6"/>
<rect x="958" y="369" width="1" height="43" fill="#caccd6"/>
<rect x="943" y="412" width="1" height="41" fill="#dcdee8"/>
<rect x="958" y="412" width="1" height="41" fill="#dcdee8"/>
<rect x="943" y="453" width="1" height="43" fill="#caccd6"/>
<rect x="958" y="453" width="1" height="43" fill="#caccd6"/>
<rect x="943" y="496" width="1" height="21" fill="#dcdee8"/>
<rect x="958" y="496" width="1" height="21" fill="#dcdee8"/>
<rect x="944" y="347" width="14" height="1" fill="#dcdee8"/>
<rect x="59" y="509" width="16" height="1" fill="rgba(0,0,0,0.07)"/>
<rect x="76" y="509" width="951" height="1" fill="rgba(0,0,0,0.07)"/>
<rect x="59" y="481" width="16" height="1" fill="rgba(0,0,0,0.07)"/>
<rect x="76" y="481" width="951" height="1" fill="rgba(0,0,0,0.07)"/>
<rect x="59" y="467" width="16" height="1" fill="rgba(0,0,0,0.07)"/>
<rect x="76" y="467" width="951" height="1" fill="rgba(0,0,0,0.07)"/>
<rect x="59" y="439" width="16" height="1" fill="rgba(0,0,0,0.07)"/>
<rect x="76" y="439" width="951" height="1" fill="rgba(0,0,0,0.07)"/>
<rect x="59" y="425" width="16" height="1" fill="rgba(0,0,0,0.07)"/>
<rect x="76" y="425" width="951" height="1" fill="rgba(0,0,0,0.07)"/>
<rect x="59" y="397" width="16" height="1" fill="rgba(0,0,0,0.07)"/>
<rect x="76" y="397" width="951" height="1" fill="rgba(0,0,0,0.07)"/>
<rect x="59" y="383" width="16" height="1" fill="rgba(0,0,0,0.07)"/>
<rect x="76" y="383" width="951" height="1" fill="rgba(0,0,0,0.07)"/>
<rect x="59" y="355" width="16" height="1" fill="rgba(0,0,0,0.07)"/>
<rect x="76" y="355" width="951" height="1" fill="rgba(0,0,0,0.07)"/>
<rect x="59" y="341" width="16" height="1" fill="rgba(0,0,0,0.07)"/>
<rect x="76" y="341" width="951" height="1" fill="rgba(0,0,0,0.07)"/>
<rect x="59" y="313" width="16" height="1" fill="rgba(0,0,0,0.07)"/>
<rect x="76" y="313" width="951" height="1" fill="rgba(0,0,0,0.07)"/>
<rect x="59" y="299" width="16" height="1" fill="rgba(0,0,0,0.07)"/>
<rect x="76" y="299" width="951" height="1" fill="rgba(0,0,0,0.07)"/>
<rect x="59" y="271" width="16" height="1" fill="rgba(0,0,0,0.07)"/>
<rect x="76" y="271" width="951" height="1" fill="rgba(0,0,0,0.07)"/>
<rect x="59" y="257" width="16" height="1" fill="rgba(0,0,0,0.07)"/>
<rect x="76" y="257" width="951" height="1" fill="rgba(0,0,0,0.07)"/>
<rect x="59" y="229" width="16" height="1" fill="rgba(0,0,0,0.07)"/>
<rect x="76" y="229" width="951" height="1" fill="rgba(0,0,0,0.07)"/>
<rect x="59" y="215" width="16" height="1" fill="rgba(0,0,0,0.07)"/>
<rect x="76" y="215" width="951" height="1" fill="rgba(0,0,0,0.07)"/>
<rect x="59" y="187" width="16" height="1" fill="rgba(0,0,0,0.07)"/>
<rect x="76" y="187" width="951" height="1" fill="rgba(0,0,0,0.07)"/>
<rect x="59" y="173" width="16" height="1" fill="rgba(0,0,0,0.07)"/>
<rect x="76" y="173" width="951" height="1" fill="rgba(0,0,0,0.07)"/>
<rect x="59" y="145" width="16" height="1" fill="rgba(0,0,0,0.07)"/>
<rect x="76" y="145" width="951" height="1" fill="rgba(0,0,0,0.07)"/>
<rect x="59" y="131" width="16" height="1" fill="rgba(0,0,0,0.07)"/>
<rect x="76" y="131" width="951" height="1" fill="rgba(0,0,0,0.07)"/>
<rect x="77" y="334" width="14" height="183" fill="#f9c500"/>
<rect x="94" y="334" width="14" height="183" fill="#f9c500"/>
<rect x="111" y="334" width="14" height="183" fill="#f9c500"/>
<rect x="128" y="390" width="14" height="127" fill="#77bf23"/>
<rect x="145" y="446" width="14" height="71" fill="#77bf23"/>
<rect x="162" y="362" width="14" height="155" fill="#f9c500"/>
<rect x="179" y="278" width="14" height="239" fill="#d72d1e"/>
<rect x="196" y="404" width="14" height="113" fill="#77bf23"/>
<rect x="213" y="432" width="14" height="85" fill="#77bf23"/>
<rect x="230" y="432" width="14" height="85" fill="#77bf23"/>
<rect x="247" y="418" width="14" height="99" fill="#77bf23"/>
<rect x="264" y="404" width="14" height="113" fill="#77bf23"/>
<rect x="281" y="418" width="14" height="99" fill="#77bf23"/>
<rect x="298" y="390" width="14" height="127" fill="#77bf23"/>
<rect x="315" y="432" width="14" height="85" fill="#77bf23"/>
<rect x="332" y="404" width="14" height="113" fill="#77bf23"/>
<rect x="349" y="432" width="14" height="85" fill="#77bf23"/>
<rect x="366" y="376" width="14" height="141" fill="#77bf23"/>
<rect x="383" y="432" width="14" height="85" fill="#77bf23"/>
<rect x="400" y="432" width="14" height="85" fill="#77bf23"/>
<rect x="417" y="418" width="14" height="99" fill="#77bf23"/>
<rect x="434" y="432" width="14" height="85" fill="#77bf23"/>
<rect x="451" y="446" width="14" height="71" fill="#77bf23"/>
<rect x="468" y="418" width="14" height="99" fill="#77bf23"/>
<rect x="485" y="390" width="14" height="127" fill="#77bf23"/>
<rect x="502" y="390" width="14" height="127" fill="#77bf23"/>
<rect x="519" y="390" width="14" height="127" fill="#77bf23"/>
<rect x="536" y="432" width="14" height="85" fill="#77bf23"/>
<rect x="553" y="390" width="14" height="127" fill="#77bf23"/>
<rect x="570" y="474" width="14" height="43" fill="#008c3c"/>
<rect x="587" y="488" width="14" height="29" fill="#008c3c"/>
<rect x="604" y="460" width="14" height="57" fill="#008c3c"/>
<rect x="621" y="474" width="14" height="43" fill="#008c3c"/>
<rect x="638" y="418" width="14" height="99" fill="#77bf23"/>
<rect x="655" y="432" width="14" height="85" fill="#77bf23"/>
<rect x="672" y="432" width="14" height="85" fill="#77bf23"/>
<rect x="689" y="418" width="14" height="99" fill="#77bf23"/>
<rect x="706" y="418" width="14" height="99" fill="#77bf23"/>
<rect x="723" y="404" width="14" height="113" fill="#77bf23"/>
<rect x="740" y="362" width="14" height="155" fill="#f9c500"/>
<rect x="757" y="348" width="14" height="169" fill="#f9c500"/>
<rect x="774" y="376" width="14" height="141" fill="#77bf23"/>
<rect x="791" y="404" width="14" height="113" fill="#77bf23"/>
<rect x="808" y="446" width="14" height="71" fill="#77bf23"/>
<rect x="825" y="474" width="14" height="43" fill="#008c3c"/>
<rect x="842" y="460" width="14" height="57" fill="#008c3c"/>
<rect x="859" y="404" width="14" height="113" fill="#77bf23"/>
<rect x="876" y="334" width="14" height="183" fill="#f9c500"/>
<rect x="893" y="348" width="14" height="169" fill="#f9c500"/>
<rect x="910" y="320" width="14" height="197" fill="#e67814"/>
<rect x="927" y="306" width="14" height="211" fill="#e67814"/>
<rect x="944" y="348" width="14" height="169" fill="#f9c500"/>
<text x="968.3" y="516" font-size="9" fill="#444444" text-anchor="middle">x</text>
<text x="985.3" y="516" font-size="9" fill="#444444" text-anchor="middle">x</text>
<text x="1002.3" y="516" font-size="9" fill="#444444" text-anchor="middle">x</text>
<text x="1019.3" y="516" font-size="9" fill="#444444" text-anchor="middle">x</text>
<rect x="77" y="519" width="14" height="31" fill="#808080"/>
<text transform="translate(84.5,531) scale(0.88,1)" font-size="11" fill="#e4e4e4" text-anchor="middle">0</text>
<text transform="translate(84.5,545) scale(0.88,1)" font-size="11" fill="#e4e4e4" text-anchor="middle">3</text>
<rect x="94" y="519" width="14" height="31" fill="#808080"/>
<text transform="translate(101.5,531) scale(0.88,1)" font-size="11" fill="#e4e4e4" text-anchor="middle">3</text>
<text transform="translate(101.5,545) scale(0.88,1)" font-size="11" fill="#e4e4e4" text-anchor="middle">6</text>
<rect x="111" y="519" width="14" height="31" fill="#808080"/>
<text transform="translate(118.5,531) scale(0.88,1)" font-size="11" fill="#e4e4e4" text-anchor="middle">6</text>
<text transform="translate(118.5,545) scale(0.88,1)" font-size="11" fill="#e4e4e4" text-anchor="middle">9</text>
<rect x="128" y="519" width="14" height="31" fill="#808080"/>
<text transform="translate(135.5,531) scale(0.88,1)" font-size="11" fill="#e4e4e4" text-anchor="middle">9</text>
<text transform="translate(135.5,545) scale(0.88,1)" font-size="11" fill="#e4e4e4" text-anchor="middle">12</text>
<rect x="145" y="519" width="14" height="31" fill="#808080"/>
<text transform="translate(152.5,531) scale(0.88,1)" font-size="11" fill="#e4e4e4" text-anchor="middle">12</text>
<text transform="translate(152.5,545) scale(0.88,1)" font-size="11" fill="#e4e4e4" text-anchor="middle">15</text>
<rect x="162" y="519" width="14" height="31" fill="#808080"/>
<text transform="translate(169.5,531) scale(0.88,1)" font-size="11" fill="#e4e4e4" text-anchor="middle">15</text>
<text transform="translate(169.5,545) scale(0.88,1)" font-size="11" fill="#e4e4e4" text-anchor="middle">18</text>
<rect x="179" y="519" width="14" height="31" fill="#808080"/>
<text transform="translate(186.5,531) scale(0.88,1)" font-size="11" fill="#e4e4e4" text-anchor="middle">18</text>
<text transform="translate(186.5,545) scale(0.88,1)" font-size="11" fill="#e4e4e4" text-anchor="middle">21</text>
<rect x="196" y="519" width="14" height="31" fill="#808080"/>
<text transform="translate(203.5,531) scale(0.88,1)" font-size="11" fill="#e4e4e4" text-anchor="middle">21</text>
<text transform="translate(203.5,545) scale(0.88,1)" font-size="11" fill="#e4e4e4" text-anchor="middle">24</text>
<rect x="213" y="519" width="14" height="31" fill="#808080"/>
<text transform="translate(220.5,531) scale(0.88,1)" font-size="11" fill="#e4e4e4" text-anchor="middle">0</text>
<text transform="translate(220.5,545) scale(0.88,1)" font-size="11" fill="#e4e4e4" text-anchor="middle">3</text>
<rect x="230" y="519" width="14" height="31" fill="#808080"/>
<text transform="translate(237.5,531) scale(0.88,1)" font-size="11" fill="#e4e4e4" text-anchor="middle">3</text>
<text transform="translate(237.5,545) scale(0.88,1)" font-size="11" fill="#e4e4e4" text-anchor="middle">6</text>
<rect x="247" y="519" width="14" height="31" fill="#808080"/>
<text transform="translate(254.5,531) scale(0.88,1)" font-size="11" fill="#e4e4e4" text-anchor="middle">6</text>
<text transform="translate(254.5,545) scale(0.88,1)" font-size="11" fill="#e4e4e4" text-anchor="middle">9</text>
<rect x="264" y="519" width="14" height="31" fill="#808080"/>
<text transform="translate(271.5,531) scale(0.88,1)" font-size="11" fill="#e4e4e4" text-anchor="middle">9</text>
<text transform="translate(271.5,545) scale(0.88,1)" font-size="11" fill="#e4e4e4" text-anchor="middle">12</text>
<rect x="281" y="519" width="14" height="31" fill="#808080"/>
<text transform="translate(288.5,531) scale(0.88,1)" font-size="11" fill="#e4e4e4" text-anchor="middle">12</text>
<text transform="translate(288.5,545) scale(0.88,1)" font-size="11" fill="#e4e4e4" text-anchor="middle">15</text>
<rect x="298" y="519" width="14" height="31" fill="#808080"/>
<text transform="translate(305.5,531) scale(0.88,1)" font-size="11" fill="#e4e4e4" text-anchor="middle">15</text>
<text transform="translate(305.5,545) scale(0.88,1)" font-size="11" fill="#e4e4e4" text-anchor="middle">18</text>
<rect x="315" y="519" width="14" height="31" fill="#808080"/>
<text transform="translate(322.5,531) scale(0.88,1)" font-size="11" fill="#e4e4e4" text-anchor="middle">18</text>
<text transform="translate(322.5,545) scale(0.88,1)" font-size="11" fill="#e4e4e4" text-anchor="middle">21</text>
<rect x="332" y="519" width="14" height="31" fill="#808080"/>
<text transform="translate(339.5,531) scale(0.88,1)" font-size="11" fill="#e4e4e4" text-anchor="middle">21</text>
<text transform="translate(339.5,545) scale(0.88,1)" font-size="11" fill="#e4e4e4" text-anchor="middle">24</text>
<rect x="349" y="519" width="14" height="31" fill="#808080"/>
<text transform="translate(356.5,531) scale(0.88,1)" font-size="11" fill="#e4e4e4" text-anchor="middle">0</text>
<text transform="translate(356.5,545) scale(0.88,1)" font-size="11" fill="#e4e4e4" text-anchor="middle">3</text>
<rect x="366" y="519" width="14" height="31" fill="#808080"/>
<text transform="translate(373.5,531) scale(0.88,1)" font-size="11" fill="#e4e4e4" text-anchor="middle">3</text>
<text transform="translate(373.5,545) scale(0.88,1)" font-size="11" fill="#e4e4e4" text-anchor="middle">6</text>
<rect x="383" y="519" width="14" height="31" fill="#808080"/>
<text transform="translate(390.5,531) scale(0.88,1)" font-size="11" fill="#e4e4e4" text-anchor="middle">6</text>
<text transform="translate(390.5,545) scale(0.88,1)" font-size="11" fill="#e4e4e4" text-anchor="middle">9</text>
<rect x="400" y="519" width="14" height="31" fill="#808080"/>
<text transform="translate(407.5,531) scale(0.88,1)" font-size="11" fill="#e4e4e4" text-anchor="middle">9</text>
<text transform="translate(407.5,545) scale(0.88,1)" font-size="11" fill="#e4e4e4" text-anchor="middle">12</text>
<rect x="417" y="519" width="14" height="31" fill="#808080"/>
<text transform="translate(424.5,531) scale(0.88,1)" font-size="11" fill="#e4e4e4" text-anchor="middle">12</text>
<text transform="translate(424.5,545) scale(0.88,1)" font-size="11" fill="#e4e4e4" text-anchor="middle">15</text>
<rect x="434" y="519" width="14" height="31" fill="#808080"/>
<text transform="translate(441.5,531) scale(0.88,1)" font-size="11" fill="#e4e4e4" text-anchor="middle">15</text>
<text transform="translate(441.5,545) scale(0.88,1)" font-size="11" fill="#e4e4e4" text-anchor="middle">18</text>
<rect x="451" y="519" width="14" height="31" fill="#808080"/>
<text transform="translate(458.5,531) scale(0.88,1)" font-size="11" fill="#e4e4e4" text-anchor="middle">18</text>
<text transform="translate(458.5,545) scale(0.88,1)" font-size="11" fill="#e4e4e4" text-anchor="middle">21</text>
<rect x="468" y="519" width="14" height="31" fill="#808080"/>
<text transform="translate(475.5,531) scale(0.88,1)" font-size="11" fill="#e4e4e4" text-anchor="middle">21</text>
<text transform="translate(475.5,545) scale(0.88,1)" font-size="11" fill="#e4e4e4" text-anchor="middle">24</text>
<rect x="485" y="519" width="14" height="31" fill="#808080"/>
<text transform="translate(492.5,531) scale(0.88,1)" font-size="11" fill="#e4e4e4" text-anchor="middle">0</text>
<text transform="translate(492.5,545) scale(0.88,1)" font-size="11" fill="#e4e4e4" text-anchor="middle">3</text>
<rect x="502" y="519" width="14" height="31" fill="#808080"/>
<text transform="translate(509.5,531) scale(0.88,1)" font-size="11" fill="#e4e4e4" text-anchor="middle">3</text>
<text transform="translate(509.5,545) scale(0.88,1)" font-size="11" fill="#e4e4e4" text-anchor="middle">6</text>
<rect x="519" y="519" width="14" height="31" fill="#808080"/>
<text transform="translate(526.5,531) scale(0.88,1)" font-size="11" fill="#e4e4e4" text-anchor="middle">6</text>
<text transform="translate(526.5,545) scale(0.88,1)" font-size="11" fill="#e4e4e4" text-anchor="middle">9</text>
<rect x="536" y="519" width="14" height="31" fill="#808080"/>
<text transform="translate(543.5,531) scale(0.88,1)" font-size="11" fill="#e4e4e4" text-anchor="middle">9</text>
<text transform="translate(543.5,545) scale(0.88,1)" font-size="11" fill="#e4e4e4" text-anchor="middle">12</text>
<rect x="553" y="519" width="14" height="31" fill="#808080"/>
<text transform="translate(560.5,531) scale(0.88,1)" font-size="11" fill="#e4e4e4" text-anchor="middle">12</text>
<text transform="translate(560.5,545) scale(0.88,1)" font-size="11" fill="#e4e4e4" text-anchor="middle">15</text>
<rect x="570" y="519" width="14" height="31" fill="#808080"/>
<text transform="translate(577.5,531) scale(0.88,1)" font-size="11" fill="#e4e4e4" text-anchor="middle">15</text>
<text transform="translate(577.5,545) scale(0.88,1)" font-size="11" fill="#e4e4e4" text-anchor="middle">18</text>
<rect x="587" y="519" width="14" height="31" fill="#808080"/>
<text transform="translate(594.5,531) scale(0.88,1)" font-size="11" fill="#e4e4e4" text-anchor="middle">18</text>
<text transform="translate(594.5,545) scale(0.88,1)" font-size="11" fill="#e4e4e4" text-anchor="middle">21</text>
<rect x="604" y="519" width="14" height="31" fill="#808080"/>
<text transform="translate(611.5,531) scale(0.88,1)" font-size="11" fill="#e4e4e4" text-anchor="middle">21</text>
<text transform="translate(611.5,545) scale(0.88,1)" font-size="11" fill="#e4e4e4" text-anchor="middle">24</text>
<rect x="621" y="519" width="14" height="31" fill="#808080"/>
<text transform="translate(628.5,531) scale(0.88,1)" font-size="11" fill="#e4e4e4" text-anchor="middle">0</text>
<text transform="translate(628.5,545) scale(0.88,1)" font-size="11" fill="#e4e4e4" text-anchor="middle">3</text>
<rect x="638" y="519" width="14" height="31" fill="#808080"/>
<text transform="translate(645.5,531) scale(0.88,1)" font-size="11" fill="#e4e4e4" text-anchor="middle">3</text>
<text transform="translate(645.5,545) scale(0.88,1)" font-size="11" fill="#e4e4e4" text-anchor="middle">6</text>
<rect x="655" y="519" width="14" height="31" fill="#808080"/>
<text transform="translate(662.5,531) scale(0.88,1)" font-size="11" fill="#e4e4e4" text-anchor="middle">6</text>
<text transform="translate(662.5,545) scale(0.88,1)" font-size="11" fill="#e4e4e4" text-anchor="middle">9</text>
<rect x="672" y="519" width="14" height="31" fill="#808080"/>
<text transform="translate(679.5,531) scale(0.88,1)" font-size="11" fill="#e4e4e4" text-anchor="middle">9</text>
<text transform="translate(679.5,545) scale(0.88,1)" font-size="11" fill="#e4e4e4" text-anchor="middle">12</text>
<rect x="689" y="519" width="14" height="31" fill="#808080"/>
<text transform="translate(696.5,531) scale(0.88,1)" font-size="11" fill="#e4e4e4" text-anchor="middle">12</text>
<text transform="translate(696.5,545) scale(0.88,1)" font-size="11" fill="#e4e4e4" text-anchor="middle">15</text>
<rect x="706" y="519" width="14" height="31" fill="#808080"/>
<text transform="translate(713.5,531) scale(0.88,1)" font-size="11" fill="#e4e4e4" text-anchor="middle">15</text>
<text transform="translate(713.5,545) scale(0.88,1)" font-size="11" fill="#e4e4e4" text-anchor="middle">18</text>
<rect x="723" y="519" width="14" height="31" fill="#808080"/>
<text transform="translate(730.5,531) scale(0.88,1)" font-size="11" fill="#e4e4e4" text-anchor="middle">18</text>
<text transform="translate(730.5,545) scale(0.88,1)" font-size="11" fill="#e4e4e4" text-anchor="middle">21</text>
<rect x="740" y="519" width="14" height="31" fill="#808080"/>
<text transform="translate(747.5,531) scale(0.88,1)" font-size="11" fill="#e4e4e4" text-anchor="middle">21</text>
<text transform="translate(747.5,545) scale(0.88,1)" font-size="11" fill="#e4e4e4" text-anchor="middle">24</text>
<rect x="757" y="519" width="14" height="31" fill="#808080"/>
<text transform="translate(764.5,531) scale(0.88,1)" font-size="11" fill="#e4e4e4" text-anchor="middle">0</text>
<text transform="translate(764.5,545) scale(0.88,1)" font-size="11" fill="#e4e4e4" text-anchor="middle">3</text>
<rect x="774" y="519" width="14" height="31" fill="#808080"/>
<text transform="translate(781.5,531) scale(0.88,1)" font-size="11" fill="#e4e4e4" text-anchor="middle">3</text>
<text transform="translate(781.5,545) scale(0.88,1)" font-size="11" fill="#e4e4e4" text-anchor="middle">6</text>
<rect x="791" y="519" width="14" height="31" fill="#808080"/>
<text transform="translate(798.5,531) scale(0.88,1)" font-size="11" fill="#e4e4e4" text-anchor="middle">6</text>
<text transform="translate(798.5,545) scale(0.88,1)" font-size="11" fill="#e4e4e4" text-anchor="middle">9</text>
<rect x="808" y="519" width="14" height="31" fill="#808080"/>
<text transform="translate(815.5,531) scale(0.88,1)" font-size="11" fill="#e4e4e4" text-anchor="middle">9</text>
<text transform="translate(815.5,545) scale(0.88,1)" font-size="11" fill="#e4e4e4" text-anchor="middle">12</text>
<rect x="825" y="519" width="14" height="31" fill="#808080"/>
<text transform="translate(832.5,531) scale(0.88,1)" font-size="11" fill="#e4e4e4" text-anchor="middle">12</text>
<text transform="translate(832.5,545) scale(0.88,1)" font-size="11" fill="#e4e4e4" text-anchor="middle">15</text>
<rect x="842" y="519" width="14" height="31" fill="#808080"/>
<text transform="translate(849.5,531) scale(0.88,1)" font-size="11" fill="#e4e4e4" text-anchor="middle">15</text>
<text transform="translate(849.5,545) scale(0.88,1)" font-size="11" fill="#e4e4e4" text-anchor="middle">18</text>
<rect x="859" y="519" width="14" height="31" fill="#808080"/>
<text transform="translate(866.5,531) scale(0.88,1)" font-size="11" fill="#e4e4e4" text-anchor="middle">18</text>
<text transform="translate(866.5,545) scale(0.88,1)" font-size="11" fill="#e4e4e4" text-anchor="middle">21</text>
<rect x="876" y="519" width="14" height="31" fill="#808080"/>
<text transform="translate(883.5,531) scale(0.88,1)" font-size="11" fill="#e4e4e4" text-anchor="middle">21</text>
<text transform="translate(883.5,545) scale(0.88,1)" font-size="11" fill="#e4e4e4" text-anchor="middle">24</text>
<rect x="893" y="519" width="14" height="31" fill="#808080"/>
<text transform="translate(900.5,531) scale(0.88,1)" font-size="11" fill="#e4e4e4" text-anchor="middle">0</text>
<text transform="translate(900.5,545) scale(0.88,1)" font-size="11" fill="#e4e4e4" text-anchor="middle">3</text>
<rect x="910" y="519" width="14" height="31" fill="#808080"/>
<text transform="translate(917.5,531) scale(0.88,1)" font-size="11" fill="#e4e4e4" text-anchor="middle">3</text>
<text transform="translate(917.5,545) scale(0.88,1)" font-size="11" fill="#e4e4e4" text-anchor="middle">6</text>
<rect x="927" y="519" width="14" height="31" fill="#808080"/>
<text transform="translate(934.5,531) scale(0.88,1)" font-size="11" fill="#e4e4e4" text-anchor="middle">6</text>
<text transform="translate(934.5,545) scale(0.88,1)" font-size="11" fill="#e4e4e4" text-anchor="middle">9</text>
<rect x="944" y="519" width="14" height="31" fill="#808080"/>
<text transform="translate(951.5,531) scale(0.88,1)" font-size="11" fill="#e4e4e4" text-anchor="middle">9</text>
<text transform="translate(951.5,545) scale(0.88,1)" font-size="11" fill="#e4e4e4" text-anchor="middle">12</text>
<rect x="961" y="519" width="14" height="31" fill="#808080"/>
<text transform="translate(968.5,531) scale(0.88,1)" font-size="11" fill="#e4e4e4" text-anchor="middle">12</text>
<text transform="translate(968.5,545) scale(0.88,1)" font-size="11" fill="#e4e4e4" text-anchor="middle">15</text>
<rect x="978" y="519" width="14" height="31" fill="#808080"/>
<text transform="translate(985.5,531) scale(0.88,1)" font-size="11" fill="#e4e4e4" text-anchor="middle">15</text>
<text transform="translate(985.5,545) scale(0.88,1)" font-size="11" fill="#e4e4e4" text-anchor="middle">18</text>
<rect x="995" y="519" width="14" height="31" fill="#808080"/>
<text transform="translate(1002.5,531) scale(0.88,1)" font-size="11" fill="#e4e4e4" text-anchor="middle">18</text>
<text transform="translate(1002.5,545) scale(0.88,1)" font-size="11" fill="#e4e4e4" text-anchor="middle">21</text>
<rect x="1012" y="519" width="14" height="31" fill="#808080"/>
<text transform="translate(1019.5,531) scale(0.88,1)" font-size="11" fill="#e4e4e4" text-anchor="middle">21</text>
<text transform="translate(1019.5,545) scale(0.88,1)" font-size="11" fill="#e4e4e4" text-anchor="middle">24</text>
<rect x="1036" y="89" width="137" height="225" fill="#808080"/>
<rect x="1037" y="90" width="135" height="223" fill="#dddddd"/>
<rect x="1036" y="117" width="137" height="1" fill="#808080"/>
<text x="1104.5" y="110" font-size="15" fill="#3a3a3a" text-anchor="middle" font-weight="bold">Solar data</text>
<text x="1104.5" y="138" font-size="13" fill="#444444" text-anchor="middle">Solar cycle 25</text>
<text x="1106" y="166" font-size="13" fill="#444444" text-anchor="middle">Carrington rotation</text>
<text x="1106" y="180" font-size="13" fill="#444444" text-anchor="middle">number 2308</text>
<text x="1104.5" y="208" font-size="13" fill="#444444" text-anchor="middle">Sunspot number</text>
<text x="1047.4" y="225" font-size="9" fill="#444444" text-anchor="middle">78</text>
<text x="1066.27" y="225" font-size="9" fill="#444444" text-anchor="middle">69</text>
<text x="1085.14" y="225" font-size="9" fill="#444444" text-anchor="middle">43</text>
<text x="1104.01" y="225" font-size="9" fill="#444444" text-anchor="middle">43</text>
<text x="1122.88" y="225" font-size="9" fill="#444444" text-anchor="middle">41</text>
<text x="1141.75" y="225" font-size="9" fill="#444444" text-anchor="middle">12</text>
<text x="1160.6200000000001" y="225" font-size="9" fill="#444444" text-anchor="middle">0</text>
<text x="1104.5" y="253" font-size="13" fill="#444444" text-anchor="middle">Daily Ap-index</text>
<text x="1047.4" y="271" font-size="9" fill="#444444" text-anchor="middle">27</text>
<text x="1066.27" y="271" font-size="9" fill="#444444" text-anchor="middle">10</text>
<text x="1085.14" y="271" font-size="9" fill="#444444" text-anchor="middle">9</text>
<text x="1104.01" y="271" font-size="9" fill="#444444" text-anchor="middle">10</text>
<text x="1122.88" y="271" font-size="9" fill="#444444" text-anchor="middle">10</text>
<text x="1141.75" y="271" font-size="9" fill="#444444" text-anchor="middle">14</text>
<text x="1160.6200000000001" y="271" font-size="9" fill="#444444" text-anchor="middle">---</text>
<text x="1102.5" y="292" font-size="9" fill="#444444" text-anchor="middle">Kp-data from&#160; GFZ Potsdam:</text>
<text x="1102.5" y="302" font-size="9" fill="#444444" text-anchor="middle">http://www.gfz-potsdam.de</text>
<rect x="1036" y="320" width="137" height="232" fill="#808080"/>
<rect x="1037" y="321" width="135" height="230" fill="#dddddd"/>
<rect x="1036" y="348" width="137" height="1" fill="#808080"/>
<text x="1104.5" y="340" font-size="15" fill="#3a3a3a" text-anchor="middle" font-weight="bold">Activity levels</text>
<rect x="1044" y="355" width="18" height="18" fill="#4b0023"/>
<text x="1054" y="369" font-size="12" fill="#ffffff" text-anchor="middle">G5</text>
<text x="1070" y="368" font-size="13" fill="#444444" text-anchor="start">extreme storm</text>
<rect x="1044" y="379" width="18" height="19" fill="#6e0041"/>
<text x="1054" y="393" font-size="12" fill="#ffffff" text-anchor="middle">G4</text>
<text x="1070" y="392" font-size="13" fill="#444444" text-anchor="start">severe storm</text>
<rect x="1044" y="404" width="18" height="18" fill="#a5005a"/>
<text x="1054" y="418" font-size="12" fill="#ffffff" text-anchor="middle">G3</text>
<text x="1070" y="417" font-size="13" fill="#444444" text-anchor="start">strong storm</text>
<rect x="1044" y="428" width="18" height="19" fill="#d72d1e"/>
<text x="1054" y="442" font-size="12" fill="#ffffff" text-anchor="middle">G2</text>
<text x="1070" y="441" font-size="13" fill="#444444" text-anchor="start">moderate storm</text>
<rect x="1044" y="453" width="18" height="18" fill="#e67814"/>
<text x="1054" y="467" font-size="12" fill="#ffffff" text-anchor="middle">G1</text>
<text x="1070" y="466" font-size="13" fill="#444444" text-anchor="start">minor storm</text>
<rect x="1044" y="477" width="18" height="19" fill="#f9c500"/>
<text x="1070" y="490" font-size="13" fill="#444444" text-anchor="start">active</text>
<rect x="1044" y="502" width="18" height="18" fill="#77bf23"/>
<text x="1070" y="515" font-size="13" fill="#444444" text-anchor="start">unsettled</text>
<rect x="1044" y="526" width="18" height="19" fill="#008c3c"/>
<text x="1070" y="539" font-size="13" fill="#444444" text-anchor="start">quiet</text>
<text transform="translate(1181.4,555.6) rotate(-90)" x="0" y="0" font-size="9.5" fill="#b4b4b4" text-anchor="start">http://www.theusner.eu/terra/aurora/kp_archive.php</text>
<rect x="0" y="559" width="1181" height="1" fill="#808080"/>
<rect x="205" y="578" width="769" height="200" fill="#808080"/>
<rect x="206" y="579" width="767" height="200" fill="#ffffff"/>
<rect x="211" y="584" width="757" height="128" fill="#808080"/>
<rect x="212" y="585" width="755" height="126" fill="#dddddd"/>
<rect x="224" y="600" width="743" height="8" fill="#cccccc"/>
<rect x="212" y="596" width="11" height="12" fill="#cccccc"/>
<text x="217.5" y="606" font-size="10" fill="#707070" text-anchor="middle">9</text>
<rect x="224" y="608" width="743" height="12" fill="#dddddd"/>
<rect x="212" y="608" width="11" height="12" fill="#dddddd"/>
<text x="217.5" y="618" font-size="10" fill="#707070" text-anchor="middle">8</text>
<rect x="224" y="620" width="743" height="12" fill="#cccccc"/>
<rect x="212" y="620" width="11" height="12" fill="#cccccc"/>
<text x="217.5" y="630" font-size="10" fill="#707070" text-anchor="middle">7</text>
<rect x="224" y="632" width="743" height="12" fill="#dddddd"/>
<rect x="212" y="632" width="11" height="12" fill="#dddddd"/>
<text x="217.5" y="642" font-size="10" fill="#707070" text-anchor="middle">6</text>
<rect x="224" y="644" width="743" height="12" fill="#cccccc"/>
<rect x="212" y="644" width="11" height="12" fill="#cccccc"/>
<text x="217.5" y="654" font-size="10" fill="#707070" text-anchor="middle">5</text>
<rect x="224" y="656" width="743" height="12" fill="#dddddd"/>
<rect x="212" y="656" width="11" height="12" fill="#dddddd"/>
<text x="217.5" y="666" font-size="10" fill="#707070" text-anchor="middle">4</text>
<rect x="224" y="668" width="743" height="12" fill="#cccccc"/>
<rect x="212" y="668" width="11" height="12" fill="#cccccc"/>
<text x="217.5" y="678" font-size="10" fill="#707070" text-anchor="middle">3</text>
<rect x="224" y="680" width="743" height="12" fill="#dddddd"/>
<rect x="212" y="680" width="11" height="12" fill="#dddddd"/>
<text x="217.5" y="690" font-size="10" fill="#707070" text-anchor="middle">2</text>
<rect x="224" y="692" width="743" height="12" fill="#cccccc"/>
<rect x="212" y="692" width="11" height="12" fill="#cccccc"/>
<text x="217.5" y="702" font-size="10" fill="#707070" text-anchor="middle">1</text>
<rect x="224" y="704" width="743" height="7" fill="#dddddd"/>
<rect x="212" y="704" width="11" height="7" fill="#dddddd"/>
<rect x="223" y="585" width="1" height="126" fill="#808080"/>
<text x="235.5" y="591" font-size="7" fill="#5a5a5a" text-anchor="middle">23</text>
<text transform="translate(235.3,599) scale(0.93,1)" font-size="9.5" fill="#5a5a5a" text-anchor="middle">Jan</text>
<rect x="247" y="585" width="1" height="126" fill="#8c8c8c"/>
<text x="259.5" y="591" font-size="7" fill="#5a5a5a" text-anchor="middle">24</text>
<text transform="translate(259.3,599) scale(0.93,1)" font-size="9.5" fill="#5a5a5a" text-anchor="middle">Jan</text>
<rect x="271" y="585" width="1" height="126" fill="#8c8c8c"/>
<text x="283.5" y="591" font-size="7" fill="#5a5a5a" text-anchor="middle">25</text>
<text transform="translate(283.3,599) scale(0.93,1)" font-size="9.5" fill="#5a5a5a" text-anchor="middle">Jan</text>
<rect x="295" y="585" width="1" height="126" fill="#8c8c8c"/>
<text x="307.5" y="591" font-size="7" fill="#5a5a5a" text-anchor="middle">26</text>
<text transform="translate(307.3,599) scale(0.93,1)" font-size="9.5" fill="#5a5a5a" text-anchor="middle">Jan</text>
<rect x="319" y="585" width="1" height="126" fill="#8c8c8c"/>
<text x="331.5" y="591" font-size="7" fill="#5a5a5a" text-anchor="middle">27</text>
<text transform="translate(331.3,599) scale(0.93,1)" font-size="9.5" fill="#5a5a5a" text-anchor="middle">Jan</text>
<rect x="343" y="585" width="1" height="126" fill="#8c8c8c"/>
<text x="355.5" y="591" font-size="7" fill="#5a5a5a" text-anchor="middle">28</text>
<text transform="translate(355.3,599) scale(0.93,1)" font-size="9.5" fill="#5a5a5a" text-anchor="middle">Jan</text>
<rect x="367" y="585" width="1" height="126" fill="#8c8c8c"/>
<text x="379.5" y="591" font-size="7" fill="#5a5a5a" text-anchor="middle">29</text>
<text transform="translate(379.3,599) scale(0.93,1)" font-size="9.5" fill="#5a5a5a" text-anchor="middle">Jan</text>
<rect x="391" y="585" width="1" height="126" fill="#8c8c8c"/>
<text x="403.5" y="591" font-size="7" fill="#5a5a5a" text-anchor="middle">30</text>
<text transform="translate(403.3,599) scale(0.93,1)" font-size="9.5" fill="#5a5a5a" text-anchor="middle">Jan</text>
<rect x="415" y="585" width="1" height="126" fill="#8c8c8c"/>
<text x="427.5" y="591" font-size="7" fill="#5a5a5a" text-anchor="middle">31</text>
<text transform="translate(427.3,599) scale(0.93,1)" font-size="9.5" fill="#5a5a5a" text-anchor="middle">Jan</text>
<rect x="439" y="585" width="1" height="126" fill="#8c8c8c"/>
<text x="451.5" y="591" font-size="7" fill="#5a5a5a" text-anchor="middle">1</text>
<text transform="translate(451.3,599) scale(0.93,1)" font-size="9.5" fill="#5a5a5a" text-anchor="middle">Feb</text>
<rect x="463" y="585" width="1" height="126" fill="#8c8c8c"/>
<text x="475.5" y="591" font-size="7" fill="#5a5a5a" text-anchor="middle">2</text>
<text transform="translate(475.3,599) scale(0.93,1)" font-size="9.5" fill="#5a5a5a" text-anchor="middle">Feb</text>
<rect x="487" y="585" width="1" height="126" fill="#8c8c8c"/>
<text x="499.5" y="591" font-size="7" fill="#5a5a5a" text-anchor="middle">3</text>
<text transform="translate(499.3,599) scale(0.93,1)" font-size="9.5" fill="#5a5a5a" text-anchor="middle">Feb</text>
<rect x="511" y="585" width="1" height="126" fill="#8c8c8c"/>
<text x="523.5" y="591" font-size="7" fill="#5a5a5a" text-anchor="middle">4</text>
<text transform="translate(523.3,599) scale(0.93,1)" font-size="9.5" fill="#5a5a5a" text-anchor="middle">Feb</text>
<rect x="535" y="585" width="1" height="126" fill="#8c8c8c"/>
<text x="547.5" y="591" font-size="7" fill="#5a5a5a" text-anchor="middle">5</text>
<text transform="translate(547.3,599) scale(0.93,1)" font-size="9.5" fill="#5a5a5a" text-anchor="middle">Feb</text>
<rect x="559" y="585" width="1" height="126" fill="#8c8c8c"/>
<text x="571.5" y="591" font-size="7" fill="#5a5a5a" text-anchor="middle">6</text>
<text transform="translate(571.3,599) scale(0.93,1)" font-size="9.5" fill="#5a5a5a" text-anchor="middle">Feb</text>
<rect x="583" y="585" width="1" height="126" fill="#8c8c8c"/>
<text x="595.5" y="591" font-size="7" fill="#5a5a5a" text-anchor="middle">7</text>
<text transform="translate(595.3,599) scale(0.93,1)" font-size="9.5" fill="#5a5a5a" text-anchor="middle">Feb</text>
<rect x="607" y="585" width="1" height="126" fill="#8c8c8c"/>
<text x="619.5" y="591" font-size="7" fill="#5a5a5a" text-anchor="middle">8</text>
<text transform="translate(619.3,599) scale(0.93,1)" font-size="9.5" fill="#5a5a5a" text-anchor="middle">Feb</text>
<rect x="631" y="585" width="1" height="126" fill="#8c8c8c"/>
<text x="643.5" y="591" font-size="7" fill="#5a5a5a" text-anchor="middle">9</text>
<text transform="translate(643.3,599) scale(0.93,1)" font-size="9.5" fill="#5a5a5a" text-anchor="middle">Feb</text>
<rect x="655" y="585" width="1" height="126" fill="#8c8c8c"/>
<text x="667.5" y="591" font-size="7" fill="#5a5a5a" text-anchor="middle">10</text>
<text transform="translate(667.3,599) scale(0.93,1)" font-size="9.5" fill="#5a5a5a" text-anchor="middle">Feb</text>
<rect x="679" y="585" width="1" height="126" fill="#8c8c8c"/>
<text x="691.5" y="591" font-size="7" fill="#5a5a5a" text-anchor="middle">11</text>
<text transform="translate(691.3,599) scale(0.93,1)" font-size="9.5" fill="#5a5a5a" text-anchor="middle">Feb</text>
<rect x="703" y="585" width="1" height="126" fill="#8c8c8c"/>
<text x="715.5" y="591" font-size="7" fill="#5a5a5a" text-anchor="middle">12</text>
<text transform="translate(715.3,599) scale(0.93,1)" font-size="9.5" fill="#5a5a5a" text-anchor="middle">Feb</text>
<rect x="727" y="585" width="1" height="126" fill="#8c8c8c"/>
<text x="739.5" y="591" font-size="7" fill="#5a5a5a" text-anchor="middle">13</text>
<text transform="translate(739.3,599) scale(0.93,1)" font-size="9.5" fill="#5a5a5a" text-anchor="middle">Feb</text>
<rect x="751" y="585" width="1" height="126" fill="#8c8c8c"/>
<text x="763.5" y="591" font-size="7" fill="#5a5a5a" text-anchor="middle">14</text>
<text transform="translate(763.3,599) scale(0.93,1)" font-size="9.5" fill="#5a5a5a" text-anchor="middle">Feb</text>
<rect x="775" y="585" width="1" height="126" fill="#8c8c8c"/>
<text x="787.5" y="591" font-size="7" fill="#5a5a5a" text-anchor="middle">15</text>
<text transform="translate(787.3,599) scale(0.93,1)" font-size="9.5" fill="#5a5a5a" text-anchor="middle">Feb</text>
<rect x="799" y="585" width="1" height="126" fill="#8c8c8c"/>
<text x="811.5" y="591" font-size="7" fill="#5a5a5a" text-anchor="middle">16</text>
<text transform="translate(811.3,599) scale(0.93,1)" font-size="9.5" fill="#5a5a5a" text-anchor="middle">Feb</text>
<rect x="823" y="585" width="1" height="126" fill="#8c8c8c"/>
<text x="835.5" y="591" font-size="7" fill="#5a5a5a" text-anchor="middle">17</text>
<text transform="translate(835.3,599) scale(0.93,1)" font-size="9.5" fill="#5a5a5a" text-anchor="middle">Feb</text>
<rect x="847" y="585" width="1" height="126" fill="#8c8c8c"/>
<text x="859.5" y="591" font-size="7" fill="#5a5a5a" text-anchor="middle">18</text>
<text transform="translate(859.3,599) scale(0.93,1)" font-size="9.5" fill="#5a5a5a" text-anchor="middle">Feb</text>
<rect x="871" y="585" width="1" height="126" fill="#8c8c8c"/>
<text x="883.5" y="591" font-size="7" fill="#5a5a5a" text-anchor="middle">19</text>
<text transform="translate(883.3,599) scale(0.93,1)" font-size="9.5" fill="#5a5a5a" text-anchor="middle">Feb</text>
<rect x="895" y="585" width="1" height="126" fill="#8c8c8c"/>
<text x="907.5" y="591" font-size="7" fill="#5a5a5a" text-anchor="middle">20</text>
<text transform="translate(907.3,599) scale(0.93,1)" font-size="9.5" fill="#5a5a5a" text-anchor="middle">Feb</text>
<rect x="919" y="585" width="1" height="126" fill="#8c8c8c"/>
<text x="931.5" y="591" font-size="7" fill="#5a5a5a" text-anchor="middle">21</text>
<text transform="translate(931.3,599) scale(0.93,1)" font-size="9.5" fill="#5a5a5a" text-anchor="middle">Feb</text>
<rect x="943" y="585" width="1" height="126" fill="#8c8c8c"/>
<text x="955.5" y="591" font-size="7" fill="#009a3e" text-anchor="middle">22</text>
<text transform="translate(955.3,599) scale(0.93,1)" font-size="9.5" fill="#009a3e" text-anchor="middle">Feb</text>
<rect x="224" y="662" width="2" height="50" fill="#f9c500"/>
<rect x="227" y="666" width="2" height="46" fill="#f9c500"/>
<rect x="230" y="666" width="2" height="46" fill="#f9c500"/>
<rect x="233" y="658" width="2" height="54" fill="#f9c500"/>
<rect x="236" y="670" width="2" height="42" fill="#77bf23"/>
<rect x="239" y="658" width="2" height="54" fill="#f9c500"/>
<rect x="242" y="658" width="2" height="54" fill="#f9c500"/>
<rect x="245" y="662" width="2" height="50" fill="#f9c500"/>
<rect x="248" y="658" width="2" height="54" fill="#f9c500"/>
<rect x="251" y="690" width="2" height="22" fill="#77bf23"/>
<rect x="254" y="686" width="2" height="26" fill="#77bf23"/>
<rect x="257" y="678" width="2" height="34" fill="#77bf23"/>
<rect x="260" y="674" width="2" height="38" fill="#77bf23"/>
<rect x="263" y="674" width="2" height="38" fill="#77bf23"/>
<rect x="266" y="662" width="2" height="50" fill="#f9c500"/>
<rect x="269" y="674" width="2" height="38" fill="#77bf23"/>
<rect x="272" y="670" width="2" height="42" fill="#77bf23"/>
<rect x="275" y="670" width="2" height="42" fill="#77bf23"/>
<rect x="278" y="674" width="2" height="38" fill="#77bf23"/>
<rect x="281" y="670" width="2" height="42" fill="#77bf23"/>
<rect x="284" y="670" width="2" height="42" fill="#77bf23"/>
<rect x="287" y="670" width="2" height="42" fill="#77bf23"/>
<rect x="290" y="682" width="2" height="30" fill="#77bf23"/>
<rect x="293" y="686" width="2" height="26" fill="#77bf23"/>
<rect x="296" y="690" width="2" height="22" fill="#77bf23"/>
<rect x="299" y="698" width="2" height="14" fill="#008c3c"/>
<rect x="302" y="686" width="2" height="26" fill="#77bf23"/>
<rect x="305" y="678" width="2" height="34" fill="#77bf23"/>
<rect x="308" y="678" width="2" height="34" fill="#77bf23"/>
<rect x="311" y="686" width="2" height="26" fill="#77bf23"/>
<rect x="314" y="674" width="2" height="38" fill="#77bf23"/>
<rect x="317" y="670" width="2" height="42" fill="#77bf23"/>
<rect x="320" y="694" width="2" height="18" fill="#008c3c"/>
<rect x="323" y="678" width="2" height="34" fill="#77bf23"/>
<rect x="326" y="694" width="2" height="18" fill="#008c3c"/>
<rect x="329" y="690" width="2" height="22" fill="#77bf23"/>
<rect x="332" y="698" width="2" height="14" fill="#008c3c"/>
<rect x="335" y="686" width="2" height="26" fill="#77bf23"/>
<rect x="338" y="678" width="2" height="34" fill="#77bf23"/>
<rect x="341" y="674" width="2" height="38" fill="#77bf23"/>
<rect x="344" y="670" width="2" height="42" fill="#77bf23"/>
<rect x="347" y="670" width="2" height="42" fill="#77bf23"/>
<rect x="350" y="678" width="2" height="34" fill="#77bf23"/>
<rect x="353" y="670" width="2" height="42" fill="#77bf23"/>
<rect x="356" y="666" width="2" height="46" fill="#f9c500"/>
<rect x="359" y="658" width="2" height="54" fill="#f9c500"/>
<rect x="362" y="674" width="2" height="38" fill="#77bf23"/>
<rect x="365" y="646" width="2" height="66" fill="#e67814"/>
<rect x="368" y="654" width="2" height="58" fill="#e67814"/>
<rect x="371" y="670" width="2" height="42" fill="#77bf23"/>
<rect x="374" y="686" width="2" height="26" fill="#77bf23"/>
<rect x="377" y="666" width="2" height="46" fill="#f9c500"/>
<rect x="380" y="666" width="2" height="46" fill="#f9c500"/>
<rect x="383" y="658" width="2" height="54" fill="#f9c500"/>
<rect x="386" y="666" width="2" height="46" fill="#f9c500"/>
<rect x="389" y="666" width="2" height="46" fill="#f9c500"/>
<rect x="392" y="662" width="2" height="50" fill="#f9c500"/>
<rect x="395" y="678" width="2" height="34" fill="#77bf23"/>
<rect x="398" y="682" width="2" height="30" fill="#77bf23"/>
<rect x="401" y="682" width="2" height="30" fill="#77bf23"/>
<rect x="404" y="694" width="2" height="18" fill="#008c3c"/>
<rect x="407" y="694" width="2" height="18" fill="#008c3c"/>
<rect x="410" y="706" width="2" height="6" fill="#008c3c"/>
<rect x="413" y="682" width="2" height="30" fill="#77bf23"/>
<rect x="416" y="682" width="2" height="30" fill="#77bf23"/>
<rect x="419" y="686" width="2" height="26" fill="#77bf23"/>
<rect x="422" y="690" width="2" height="22" fill="#77bf23"/>
<rect x="425" y="702" width="2" height="10" fill="#008c3c"/>
<rect x="428" y="702" width="2" height="10" fill="#008c3c"/>
<rect x="431" y="706" width="2" height="6" fill="#008c3c"/>
<rect x="434" y="698" width="2" height="14" fill="#008c3c"/>
<rect x="437" y="702" width="2" height="10" fill="#008c3c"/>
<rect x="440" y="710" width="2" height="2" fill="#008c3c"/>
<rect x="443" y="706" width="2" height="6" fill="#008c3c"/>
<rect x="446" y="694" width="2" height="18" fill="#008c3c"/>
<rect x="449" y="698" width="2" height="14" fill="#008c3c"/>
<rect x="452" y="698" width="2" height="14" fill="#008c3c"/>
<rect x="455" y="698" width="2" height="14" fill="#008c3c"/>
<rect x="458" y="698" width="2" height="14" fill="#008c3c"/>
<rect x="461" y="698" width="2" height="14" fill="#008c3c"/>
<rect x="464" y="682" width="2" height="30" fill="#77bf23"/>
<rect x="467" y="682" width="2" height="30" fill="#77bf23"/>
<rect x="470" y="698" width="2" height="14" fill="#008c3c"/>
<rect x="473" y="698" width="2" height="14" fill="#008c3c"/>
<rect x="476" y="694" width="2" height="18" fill="#008c3c"/>
<rect x="479" y="702" width="2" height="10" fill="#008c3c"/>
<rect x="482" y="698" width="2" height="14" fill="#008c3c"/>
<rect x="485" y="694" width="2" height="18" fill="#008c3c"/>
<rect x="488" y="686" width="2" height="26" fill="#77bf23"/>
<rect x="491" y="690" width="2" height="22" fill="#77bf23"/>
<rect x="494" y="702" width="2" height="10" fill="#008c3c"/>
<rect x="497" y="702" width="2" height="10" fill="#008c3c"/>
<rect x="500" y="702" width="2" height="10" fill="#008c3c"/>
<rect x="503" y="698" width="2" height="14" fill="#008c3c"/>
<rect x="506" y="686" width="2" height="26" fill="#77bf23"/>
<rect x="509" y="706" width="2" height="6" fill="#008c3c"/>
<rect x="512" y="710" width="2" height="2" fill="#008c3c"/>
<rect x="515" y="710" width="2" height="2" fill="#008c3c"/>
<rect x="518" y="702" width="2" height="10" fill="#008c3c"/>
<rect x="521" y="698" width="2" height="14" fill="#008c3c"/>
<rect x="524" y="682" width="2" height="30" fill="#77bf23"/>
<rect x="527" y="670" width="2" height="42" fill="#77bf23"/>
<rect x="530" y="682" width="2" height="30" fill="#77bf23"/>
<rect x="533" y="666" width="2" height="46" fill="#f9c500"/>
<rect x="536" y="662" width="2" height="50" fill="#f9c500"/>
<rect x="539" y="646" width="2" height="66" fill="#e67814"/>
<rect x="542" y="658" width="2" height="54" fill="#f9c500"/>
<rect x="545" y="666" width="2" height="46" fill="#f9c500"/>
<rect x="548" y="670" width="2" height="42" fill="#77bf23"/>
<rect x="551" y="694" width="2" height="18" fill="#008c3c"/>
<rect x="554" y="694" width="2" height="18" fill="#008c3c"/>
<rect x="557" y="698" width="2" height="14" fill="#008c3c"/>
<rect x="560" y="710" width="2" height="2" fill="#008c3c"/>
<rect x="563" y="694" width="2" height="18" fill="#008c3c"/>
<rect x="566" y="686" width="2" height="26" fill="#77bf23"/>
<rect x="569" y="674" width="2" height="38" fill="#77bf23"/>
<rect x="572" y="666" width="2" height="46" fill="#f9c500"/>
<rect x="575" y="658" width="2" height="54" fill="#f9c500"/>
<rect x="578" y="666" width="2" height="46" fill="#f9c500"/>
<rect x="581" y="674" width="2" height="38" fill="#77bf23"/>
<rect x="584" y="666" width="2" height="46" fill="#f9c500"/>
<rect x="587" y="666" width="2" height="46" fill="#f9c500"/>
<rect x="590" y="678" width="2" height="34" fill="#77bf23"/>
<rect x="593" y="678" width="2" height="34" fill="#77bf23"/>
<rect x="596" y="686" width="2" height="26" fill="#77bf23"/>
<rect x="599" y="678" width="2" height="34" fill="#77bf23"/>
<rect x="602" y="678" width="2" height="34" fill="#77bf23"/>
<rect x="605" y="670" width="2" height="42" fill="#77bf23"/>
<rect x="608" y="682" width="2" height="30" fill="#77bf23"/>
<rect x="611" y="682" width="2" height="30" fill="#77bf23"/>
<rect x="614" y="702" width="2" height="10" fill="#008c3c"/>
<rect x="617" y="698" width="2" height="14" fill="#008c3c"/>
<rect x="620" y="698" width="2" height="14" fill="#008c3c"/>
<rect x="623" y="698" width="2" height="14" fill="#008c3c"/>
<rect x="626" y="686" width="2" height="26" fill="#77bf23"/>
<rect x="629" y="678" width="2" height="34" fill="#77bf23"/>
<rect x="632" y="682" width="2" height="30" fill="#77bf23"/>
<rect x="635" y="694" width="2" height="18" fill="#008c3c"/>
<rect x="638" y="694" width="2" height="18" fill="#008c3c"/>
<rect x="641" y="694" width="2" height="18" fill="#008c3c"/>
<rect x="644" y="682" width="2" height="30" fill="#77bf23"/>
<rect x="647" y="686" width="2" height="26" fill="#77bf23"/>
<rect x="650" y="698" width="2" height="14" fill="#008c3c"/>
<rect x="653" y="686" width="2" height="26" fill="#77bf23"/>
<rect x="656" y="698" width="2" height="14" fill="#008c3c"/>
<rect x="659" y="706" width="2" height="6" fill="#008c3c"/>
<rect x="662" y="702" width="2" height="10" fill="#008c3c"/>
<rect x="665" y="678" width="2" height="34" fill="#77bf23"/>
<rect x="668" y="686" width="2" height="26" fill="#77bf23"/>
<rect x="671" y="690" width="2" height="22" fill="#77bf23"/>
<rect x="674" y="678" width="2" height="34" fill="#77bf23"/>
<rect x="677" y="658" width="2" height="54" fill="#f9c500"/>
<rect x="680" y="662" width="2" height="50" fill="#f9c500"/>
<rect x="683" y="674" width="2" height="38" fill="#77bf23"/>
<rect x="686" y="678" width="2" height="34" fill="#77bf23"/>
<rect x="689" y="674" width="2" height="38" fill="#77bf23"/>
<rect x="692" y="682" width="2" height="30" fill="#77bf23"/>
<rect x="695" y="674" width="2" height="38" fill="#77bf23"/>
<rect x="698" y="674" width="2" height="38" fill="#77bf23"/>
<rect x="701" y="666" width="2" height="46" fill="#f9c500"/>
<rect x="704" y="682" width="2" height="30" fill="#77bf23"/>
<rect x="707" y="682" width="2" height="30" fill="#77bf23"/>
<rect x="710" y="686" width="2" height="26" fill="#77bf23"/>
<rect x="713" y="682" width="2" height="30" fill="#77bf23"/>
<rect x="716" y="698" width="2" height="14" fill="#008c3c"/>
<rect x="719" y="682" width="2" height="30" fill="#77bf23"/>
<rect x="722" y="702" width="2" height="10" fill="#008c3c"/>
<rect x="725" y="686" width="2" height="26" fill="#77bf23"/>
<rect x="728" y="662" width="2" height="50" fill="#f9c500"/>
<rect x="731" y="686" width="2" height="26" fill="#77bf23"/>
<rect x="734" y="686" width="2" height="26" fill="#77bf23"/>
<rect x="737" y="686" width="2" height="26" fill="#77bf23"/>
<rect x="740" y="690" width="2" height="22" fill="#77bf23"/>
<rect x="743" y="678" width="2" height="34" fill="#77bf23"/>
<rect x="746" y="682" width="2" height="30" fill="#77bf23"/>
<rect x="749" y="662" width="2" height="50" fill="#f9c500"/>
<rect x="752" y="678" width="2" height="34" fill="#77bf23"/>
<rect x="755" y="682" width="2" height="30" fill="#77bf23"/>
<rect x="758" y="706" width="2" height="6" fill="#008c3c"/>
<rect x="761" y="706" width="2" height="6" fill="#008c3c"/>
<rect x="764" y="702" width="2" height="10" fill="#008c3c"/>
<rect x="767" y="698" width="2" height="14" fill="#008c3c"/>
<rect x="770" y="682" width="2" height="30" fill="#77bf23"/>
<rect x="773" y="654" width="2" height="58" fill="#e67814"/>
<rect x="776" y="650" width="2" height="62" fill="#e67814"/>
<rect x="779" y="646" width="2" height="66" fill="#e67814"/>
<rect x="782" y="670" width="2" height="42" fill="#77bf23"/>
<rect x="785" y="678" width="2" height="34" fill="#77bf23"/>
<rect x="788" y="678" width="2" height="34" fill="#77bf23"/>
<rect x="791" y="670" width="2" height="42" fill="#77bf23"/>
<rect x="794" y="674" width="2" height="38" fill="#77bf23"/>
<rect x="797" y="662" width="2" height="50" fill="#f9c500"/>
<rect x="800" y="658" width="2" height="54" fill="#f9c500"/>
<rect x="803" y="658" width="2" height="54" fill="#f9c500"/>
<rect x="806" y="658" width="2" height="54" fill="#f9c500"/>
<rect x="809" y="674" width="2" height="38" fill="#77bf23"/>
<rect x="812" y="690" width="2" height="22" fill="#77bf23"/>
<rect x="815" y="666" width="2" height="46" fill="#f9c500"/>
<rect x="818" y="642" width="2" height="70" fill="#d72d1e"/>
<rect x="821" y="678" width="2" height="34" fill="#77bf23"/>
<rect x="824" y="686" width="2" height="26" fill="#77bf23"/>
<rect x="827" y="686" width="2" height="26" fill="#77bf23"/>
<rect x="830" y="682" width="2" height="30" fill="#77bf23"/>
<rect x="833" y="678" width="2" height="34" fill="#77bf23"/>
<rect x="836" y="682" width="2" height="30" fill="#77bf23"/>
<rect x="839" y="674" width="2" height="38" fill="#77bf23"/>
<rect x="842" y="686" width="2" height="26" fill="#77bf23"/>
<rect x="845" y="678" width="2" height="34" fill="#77bf23"/>
<rect x="848" y="686" width="2" height="26" fill="#77bf23"/>
<rect x="851" y="670" width="2" height="42" fill="#77bf23"/>
<rect x="854" y="686" width="2" height="26" fill="#77bf23"/>
<rect x="857" y="686" width="2" height="26" fill="#77bf23"/>
<rect x="860" y="682" width="2" height="30" fill="#77bf23"/>
<rect x="863" y="686" width="2" height="26" fill="#77bf23"/>
<rect x="866" y="690" width="2" height="22" fill="#77bf23"/>
<rect x="869" y="682" width="2" height="30" fill="#77bf23"/>
<rect x="872" y="674" width="2" height="38" fill="#77bf23"/>
<rect x="875" y="674" width="2" height="38" fill="#77bf23"/>
<rect x="878" y="674" width="2" height="38" fill="#77bf23"/>
<rect x="881" y="686" width="2" height="26" fill="#77bf23"/>
<rect x="884" y="674" width="2" height="38" fill="#77bf23"/>
<rect x="887" y="698" width="2" height="14" fill="#008c3c"/>
<rect x="890" y="702" width="2" height="10" fill="#008c3c"/>
<rect x="893" y="694" width="2" height="18" fill="#008c3c"/>
<rect x="896" y="698" width="2" height="14" fill="#008c3c"/>
<rect x="899" y="682" width="2" height="30" fill="#77bf23"/>
<rect x="902" y="686" width="2" height="26" fill="#77bf23"/>
<rect x="905" y="686" width="2" height="26" fill="#77bf23"/>
<rect x="908" y="682" width="2" height="30" fill="#77bf23"/>
<rect x="911" y="682" width="2" height="30" fill="#77bf23"/>
<rect x="914" y="678" width="2" height="34" fill="#77bf23"/>
<rect x="917" y="666" width="2" height="46" fill="#f9c500"/>
<rect x="920" y="662" width="2" height="50" fill="#f9c500"/>
<rect x="923" y="670" width="2" height="42" fill="#77bf23"/>
<rect x="926" y="678" width="2" height="34" fill="#77bf23"/>
<rect x="929" y="690" width="2" height="22" fill="#77bf23"/>
<rect x="932" y="698" width="2" height="14" fill="#008c3c"/>
<rect x="935" y="694" width="2" height="18" fill="#008c3c"/>
<rect x="938" y="678" width="2" height="34" fill="#77bf23"/>
<rect x="941" y="658" width="2" height="54" fill="#f9c500"/>
<rect x="944" y="662" width="2" height="50" fill="#f9c500"/>
<rect x="947" y="654" width="2" height="58" fill="#e67814"/>
<rect x="950" y="650" width="2" height="62" fill="#e67814"/>
<rect x="953" y="662" width="2" height="50" fill="#f9c500"/>
</svg>
<h1>Kp-index and Kpa-index archive (1868 to present)</h1>
<div class="sel" style="left:443px;width:50px"><span>2026</span><svg width="10" height="7" viewBox="0 0 10 7"><path d="M1 1.5 L5 5.5 L9 1.5" fill="none" stroke="#7a7a7a" stroke-width="1.2"/></svg></div>
<div class="sel" style="left:499px;width:35px"><span>2</span><svg width="10" height="7" viewBox="0 0 10 7"><path d="M1 1.5 L5 5.5 L9 1.5" fill="none" stroke="#7a7a7a" stroke-width="1.2"/></svg></div>
<div class="sel" style="left:540px;width:35px"><span>22</span><svg width="10" height="7" viewBox="0 0 10 7"><path d="M1 1.5 L5 5.5 L9 1.5" fill="none" stroke="#7a7a7a" stroke-width="1.2"/></svg></div>
<div class="sel" style="left:589px;width:60px"><span>7 days</span><svg width="10" height="7" viewBox="0 0 10 7"><path d="M1 1.5 L5 5.5 L9 1.5" fill="none" stroke="#7a7a7a" stroke-width="1.2"/></svg></div>
<div class="btn">Create plot</div>
<div class="hr"></div>
</body></html>
